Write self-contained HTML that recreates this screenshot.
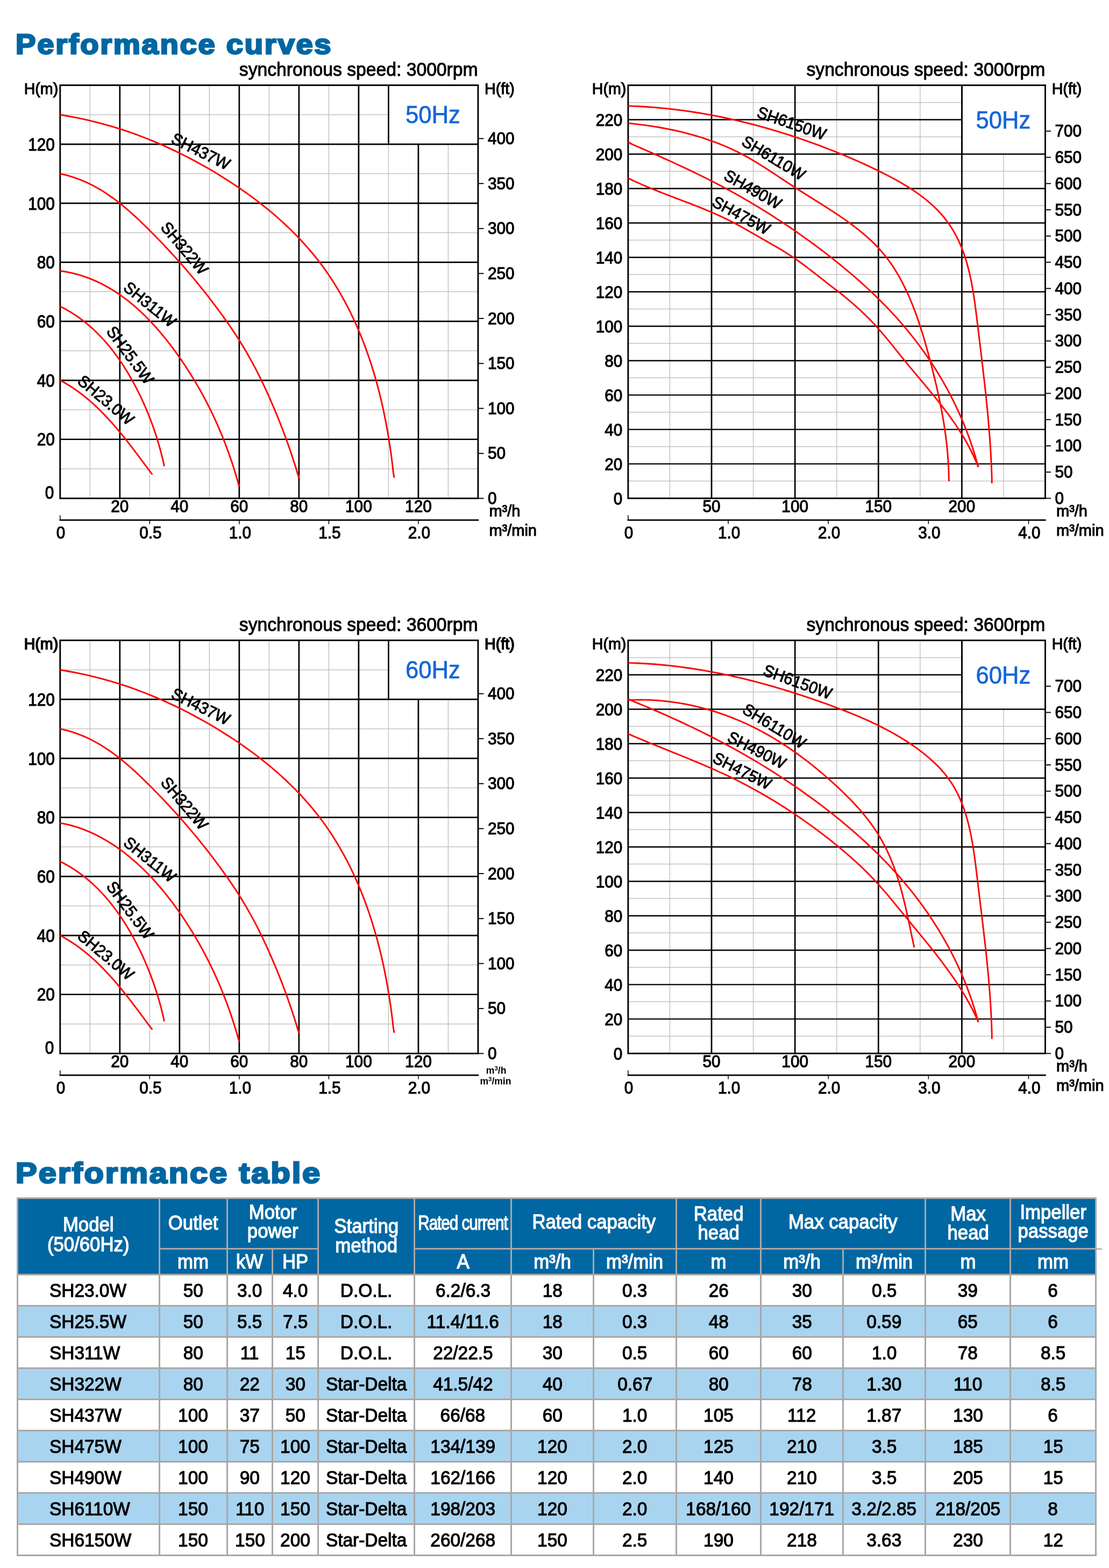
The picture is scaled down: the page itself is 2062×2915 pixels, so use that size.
<!DOCTYPE html>
<html lang="en"><head><meta charset="utf-8"><title>Performance curves</title>
<style>
html,body{margin:0;padding:0;background:#fff;}
body{width:2062px;height:2915px;position:relative;overflow:hidden;font-family:"Liberation Sans", sans-serif;color:#000;}
svg.charts{position:absolute;left:0;top:0;font-family:"Liberation Sans", sans-serif;}
h1.title{position:absolute;margin:0;left:28.6px;font-size:51.2px;line-height:60px;font-weight:bold;color:#0066a2;
  -webkit-text-stroke:2.9px #0066a2;letter-spacing:2.5px;white-space:nowrap;transform-origin:0 0;transform:scaleX(1.097);}
table.perf{position:absolute;left:30.7px;top:2225.5px;border-collapse:collapse;table-layout:fixed;width:2006px;
  font-size:34.7px;-webkit-text-stroke:1.15px #000;}
table.perf td,table.perf th{border:3px solid #a9a7a7;padding:0;text-align:center;vertical-align:middle;font-weight:normal;white-space:nowrap;overflow:visible;}
table.perf th{background:#0067a3;color:#fff;-webkit-text-stroke:1.3px #fff;line-height:35.6px;font-size:36.1px;}
table.perf th div{position:relative;}
table.perf tr.alt td{background:#a9d4ef;}
table.perf tbody tr{height:58.02px;}
table.perf td{line-height:53px;padding-top:2px;}
table.perf td.m{text-align:left;padding-left:58.5px;}
table.perf span.cx{display:inline-block;transform-origin:50% 50%;transform:scaleX(0.963);}
table.perf td.m span.cx{transform-origin:0 50%;}
</style></head><body>
<h1 class="title" style="top:53px">Performance curves</h1>
<h1 class="title" style="top:2151px;font-size:54.3px;letter-spacing:2.65px;-webkit-text-stroke-width:3.05px">Performance table</h1>
<svg class="charts" width="2062" height="2120" viewBox="0 0 2062 2120">
<g>
<line x1="167.31" y1="158.4" x2="167.31" y2="926.5" stroke="#b9b9b9" stroke-width="1.25"/>
<line x1="278.32" y1="158.4" x2="278.32" y2="926.5" stroke="#b9b9b9" stroke-width="1.25"/>
<line x1="389.34" y1="158.4" x2="389.34" y2="926.5" stroke="#b9b9b9" stroke-width="1.25"/>
<line x1="500.35" y1="158.4" x2="500.35" y2="926.5" stroke="#b9b9b9" stroke-width="1.25"/>
<line x1="611.36" y1="158.4" x2="611.36" y2="926.5" stroke="#b9b9b9" stroke-width="1.25"/>
<line x1="722.38" y1="268.13" x2="722.38" y2="926.5" stroke="#b9b9b9" stroke-width="1.25"/>
<line x1="833.39" y1="268.13" x2="833.39" y2="926.5" stroke="#b9b9b9" stroke-width="1.25"/>
<line x1="111.8" y1="871.64" x2="888.9" y2="871.64" stroke="#b9b9b9" stroke-width="1.25"/>
<line x1="111.8" y1="761.91" x2="888.9" y2="761.91" stroke="#b9b9b9" stroke-width="1.25"/>
<line x1="111.8" y1="652.18" x2="888.9" y2="652.18" stroke="#b9b9b9" stroke-width="1.25"/>
<line x1="111.8" y1="542.45" x2="888.9" y2="542.45" stroke="#b9b9b9" stroke-width="1.25"/>
<line x1="111.8" y1="432.72" x2="888.9" y2="432.72" stroke="#b9b9b9" stroke-width="1.25"/>
<line x1="111.8" y1="322.99" x2="888.9" y2="322.99" stroke="#b9b9b9" stroke-width="1.25"/>
<line x1="111.8" y1="213.26" x2="722.38" y2="213.26" stroke="#b9b9b9" stroke-width="1.25"/>
<line x1="111.8" y1="816.77" x2="888.9" y2="816.77" stroke="#000" stroke-width="2.7"/>
<line x1="111.8" y1="707.04" x2="888.9" y2="707.04" stroke="#000" stroke-width="2.7"/>
<line x1="111.8" y1="597.31" x2="888.9" y2="597.31" stroke="#000" stroke-width="2.7"/>
<line x1="111.8" y1="487.59" x2="888.9" y2="487.59" stroke="#000" stroke-width="2.7"/>
<line x1="111.8" y1="377.86" x2="888.9" y2="377.86" stroke="#000" stroke-width="2.7"/>
<line x1="111.8" y1="268.13" x2="888.9" y2="268.13" stroke="#000" stroke-width="2.7"/>
<line x1="222.81" y1="158.4" x2="222.81" y2="926.5" stroke="#000" stroke-width="2.7"/>
<line x1="333.83" y1="158.4" x2="333.83" y2="926.5" stroke="#000" stroke-width="2.7"/>
<line x1="444.84" y1="158.4" x2="444.84" y2="926.5" stroke="#000" stroke-width="2.7"/>
<line x1="555.86" y1="158.4" x2="555.86" y2="926.5" stroke="#000" stroke-width="2.7"/>
<line x1="666.87" y1="158.4" x2="666.87" y2="926.5" stroke="#000" stroke-width="2.7"/>
<line x1="777.89" y1="268.13" x2="777.89" y2="926.5" stroke="#000" stroke-width="2.7"/>
<line x1="722.38" y1="158.4" x2="722.38" y2="268.13" stroke="#000" stroke-width="2.7"/>
<rect x="111.8" y="158.4" width="777.1" height="768.1" fill="none" stroke="#000" stroke-width="2.9"/>
<path d="M111.8 213.26 L120.02 214.76 L128.37 216.2 L136.69 217.73 L144.97 219.36 L153.22 221.08 L161.43 222.89 L169.6 224.79 L177.75 226.79 L185.85 228.87 L193.93 231.04 L201.96 233.3 L209.97 235.65 L217.94 238.09 L225.88 240.61 L233.78 243.22 L241.66 245.91 L249.5 248.69 L257.3 251.54 L265.08 254.49 L272.82 257.51 L280.54 260.61 L288.22 263.79 L295.87 267.06 L303.49 270.4 L311.07 273.82 L318.63 277.31 L326.16 280.88 L333.66 284.53 L341.12 288.25 L348.56 292.05 L355.97 295.91 L363.35 299.85 L370.7 303.87 L378.03 307.95 L385.32 312.1 L392.59 316.32 L399.82 320.61 L407.03 324.97 L414.2 329.4 L421.33 333.9 L428.43 338.47 L435.48 343.11 L442.49 347.82 L449.45 352.6 L456.36 357.46 L463.22 362.38 L470.02 367.38 L476.77 372.45 L483.46 377.59 L490.08 382.81 L496.64 388.1 L503.13 393.46 L509.55 398.9 L515.9 404.41 L522.18 410 L528.37 415.66 L534.49 421.4 L540.52 427.21 L546.47 433.1 L552.33 439.06 L558.1 445.1 L563.77 451.22 L569.35 457.42 L574.84 463.69 L580.22 470.04 L585.5 476.47 L590.67 482.98 L595.74 489.56 L600.69 496.23 L605.54 502.97 L610.27 509.79 L614.91 516.68 L619.43 523.64 L623.85 530.67 L628.17 537.77 L632.38 544.93 L636.5 552.16 L640.51 559.44 L644.42 566.79 L648.24 574.2 L651.96 581.66 L655.58 589.18 L659.11 596.74 L662.55 604.36 L665.89 612.03 L669.14 619.74 L672.3 627.5 L675.37 635.3 L678.35 643.14 L681.25 651.02 L684.06 658.94 L686.79 666.9 L689.43 674.88 L691.99 682.9 L694.46 690.95 L696.86 699.02 L699.18 707.12 L701.42 715.24 L703.58 723.39 L705.66 731.55 L707.67 739.74 L709.61 747.94 L711.48 756.15 L713.27 764.38 L714.99 772.61 L716.64 780.86 L718.23 789.11 L719.74 797.37 L721.19 805.63 L722.58 813.89 L723.9 822.15 L725.16 830.41 L726.36 838.66 L727.49 846.91 L728.57 855.14 L729.59 863.37 L730.55 871.58 L731.45 879.79 L732.92 888.1" fill="none" stroke="#ff0000" stroke-width="2.9" stroke-linecap="butt"/>
<path d="M111.8 322.99 L118.05 324.31 L124.3 325.88 L130.46 327.61 L136.53 329.51 L142.5 331.57 L148.39 333.78 L154.19 336.13 L159.9 338.64 L165.53 341.27 L171.09 344.05 L176.57 346.95 L181.97 349.97 L187.3 353.11 L192.57 356.36 L197.77 359.72 L202.9 363.19 L207.97 366.75 L212.99 370.41 L217.95 374.15 L222.85 377.98 L227.7 381.89 L232.51 385.86 L237.27 389.91 L241.98 394.02 L246.66 398.19 L251.3 402.41 L255.9 406.68 L260.46 410.99 L265 415.34 L269.51 419.72 L273.99 424.13 L278.45 428.57 L282.89 433.02 L287.31 437.49 L291.7 441.98 L296.08 446.49 L300.43 451.02 L304.76 455.57 L309.07 460.13 L313.35 464.72 L317.62 469.32 L321.86 473.94 L326.07 478.58 L330.27 483.24 L334.44 487.92 L338.59 492.62 L342.71 497.34 L346.82 502.07 L350.89 506.82 L354.95 511.59 L358.97 516.38 L362.98 521.19 L366.96 526.02 L370.91 530.87 L374.84 535.73 L378.75 540.61 L382.63 545.52 L386.48 550.44 L390.31 555.38 L394.11 560.33 L397.88 565.31 L401.63 570.31 L405.35 575.32 L409.05 580.35 L412.72 585.4 L416.36 590.47 L419.98 595.56 L423.56 600.67 L427.12 605.79 L430.64 610.94 L434.13 616.11 L437.58 621.31 L440.98 626.53 L444.34 631.79 L447.65 637.07 L450.92 642.38 L454.14 647.73 L457.31 653.1 L460.43 658.49 L463.51 663.92 L466.55 669.37 L469.55 674.85 L472.5 680.35 L475.41 685.88 L478.27 691.43 L481.1 697 L483.88 702.6 L486.63 708.22 L489.34 713.86 L492.01 719.52 L494.65 725.2 L497.25 730.89 L499.82 736.61 L502.36 742.33 L504.87 748.07 L507.35 753.83 L509.81 759.59 L512.23 765.38 L514.62 771.17 L516.98 776.97 L519.32 782.79 L521.62 788.62 L523.89 794.46 L526.13 800.31 L528.34 806.17 L530.52 812.04 L532.67 817.92 L534.79 823.81 L536.87 829.71 L538.93 835.62 L540.95 841.54 L542.94 847.46 L544.9 853.39 L546.82 859.33 L548.72 865.28 L550.58 871.24 L552.41 877.2 L554.21 883.16 L555.86 889.19" fill="none" stroke="#ff0000" stroke-width="2.9" stroke-linecap="butt"/>
<path d="M111.8 504.05 L116.51 504.28 L121.2 505.04 L125.84 505.9 L130.44 506.84 L135 507.87 L139.52 508.99 L144 510.19 L148.44 511.47 L152.84 512.84 L157.21 514.28 L161.53 515.81 L165.82 517.41 L170.06 519.09 L174.27 520.84 L178.44 522.67 L182.57 524.57 L186.67 526.55 L190.72 528.59 L194.74 530.7 L198.73 532.88 L202.67 535.12 L206.58 537.43 L210.46 539.81 L214.3 542.24 L218.1 544.74 L221.87 547.29 L225.6 549.9 L229.29 552.57 L232.96 555.3 L236.58 558.07 L240.18 560.91 L243.74 563.79 L247.26 566.72 L250.75 569.7 L254.21 572.73 L257.64 575.81 L261.03 578.93 L264.39 582.09 L267.72 585.29 L271.02 588.54 L274.28 591.82 L277.51 595.15 L280.71 598.51 L283.88 601.9 L287.02 605.33 L290.13 608.8 L293.21 612.29 L296.25 615.81 L299.27 619.37 L302.26 622.95 L305.22 626.55 L308.15 630.18 L311.05 633.84 L313.92 637.52 L316.76 641.21 L319.57 644.93 L322.36 648.67 L325.12 652.42 L327.85 656.19 L330.55 659.97 L333.23 663.77 L335.88 667.57 L338.5 671.39 L341.09 675.22 L343.66 679.06 L346.21 682.91 L348.72 686.78 L351.21 690.66 L353.67 694.54 L356.11 698.44 L358.52 702.35 L360.9 706.28 L363.26 710.21 L365.59 714.16 L367.9 718.12 L370.18 722.09 L372.44 726.07 L374.66 730.07 L376.87 734.07 L379.04 738.09 L381.2 742.12 L383.32 746.16 L385.42 750.22 L387.5 754.29 L389.55 758.37 L391.57 762.46 L393.57 766.56 L395.55 770.68 L397.5 774.81 L399.42 778.95 L401.33 783.11 L403.2 787.27 L405.05 791.45 L406.88 795.65 L408.68 799.85 L410.46 804.07 L412.21 808.3 L413.94 812.54 L415.64 816.8 L417.32 821.07 L418.98 825.35 L420.61 829.65 L422.22 833.95 L423.8 838.28 L425.37 842.61 L426.9 846.96 L428.41 851.32 L429.9 855.69 L431.37 860.08 L432.81 864.48 L434.23 868.89 L435.63 873.32 L437 877.76 L438.35 882.21 L439.68 886.68 L440.98 891.16 L442.26 895.65 L443.52 900.16 L444.84 904.55" fill="none" stroke="#ff0000" stroke-width="2.9" stroke-linecap="butt"/>
<path d="M111.8 569.88 L114.81 570.99 L117.59 572.43 L120.34 573.9 L123.07 575.4 L125.77 576.94 L128.45 578.5 L131.1 580.1 L133.73 581.72 L136.34 583.37 L138.92 585.05 L141.47 586.76 L144.01 588.5 L146.51 590.27 L149 592.06 L151.46 593.88 L153.9 595.73 L156.31 597.6 L158.71 599.5 L161.08 601.43 L163.42 603.38 L165.75 605.35 L168.05 607.35 L170.33 609.38 L172.59 611.42 L174.82 613.49 L177.04 615.59 L179.23 617.71 L181.4 619.84 L183.55 622.01 L185.68 624.19 L187.79 626.39 L189.87 628.62 L191.94 630.86 L193.99 633.13 L196.01 635.41 L198.02 637.72 L200 640.04 L201.97 642.39 L203.91 644.75 L205.84 647.13 L207.75 649.52 L209.64 651.94 L211.51 654.37 L213.36 656.82 L215.19 659.28 L217 661.76 L218.8 664.25 L220.57 666.76 L222.33 669.29 L224.07 671.83 L225.8 674.38 L227.5 676.95 L229.19 679.53 L230.86 682.12 L232.51 684.73 L234.15 687.34 L235.77 689.97 L237.37 692.61 L238.96 695.27 L240.53 697.93 L242.09 700.6 L243.62 703.29 L245.15 705.98 L246.65 708.68 L248.14 711.39 L249.62 714.11 L251.08 716.84 L252.52 719.58 L253.95 722.33 L255.37 725.08 L256.76 727.84 L258.14 730.61 L259.51 733.39 L260.86 736.18 L262.2 738.97 L263.52 741.77 L264.82 744.57 L266.11 747.39 L267.38 750.21 L268.64 753.03 L269.88 755.87 L271.1 758.7 L272.31 761.55 L273.51 764.4 L274.68 767.25 L275.85 770.11 L276.99 772.98 L278.13 775.85 L279.24 778.73 L280.34 781.61 L281.43 784.49 L282.49 787.38 L283.55 790.27 L284.59 793.17 L285.61 796.07 L286.61 798.97 L287.6 801.88 L288.58 804.79 L289.54 807.71 L290.48 810.62 L291.41 813.54 L292.32 816.46 L293.22 819.39 L294.1 822.31 L294.97 825.24 L295.82 828.17 L296.65 831.1 L297.47 834.03 L298.27 836.97 L299.06 839.9 L299.83 842.84 L300.59 845.77 L301.33 848.71 L302.05 851.64 L302.76 854.58 L303.45 857.52 L304.13 860.45 L304.79 863.39 L304.96 866.7" fill="none" stroke="#ff0000" stroke-width="2.9" stroke-linecap="butt"/>
<path d="M111.8 707.04 L113.66 708.03 L115.51 709.04 L117.35 710.05 L119.18 711.09 L121 712.13 L122.81 713.19 L124.6 714.26 L126.39 715.34 L128.17 716.44 L129.94 717.55 L131.7 718.67 L133.44 719.8 L135.18 720.94 L136.91 722.1 L138.63 723.26 L140.34 724.44 L142.04 725.63 L143.73 726.84 L145.42 728.05 L147.09 729.27 L148.76 730.51 L150.41 731.75 L152.06 733.01 L153.7 734.27 L155.32 735.55 L156.95 736.84 L158.56 738.13 L160.16 739.44 L161.76 740.76 L163.35 742.08 L164.93 743.42 L166.5 744.76 L168.06 746.12 L169.62 747.48 L171.17 748.85 L172.71 750.23 L174.24 751.62 L175.77 753.02 L177.29 754.43 L178.8 755.84 L180.3 757.27 L181.8 758.7 L183.29 760.14 L184.77 761.58 L186.25 763.04 L187.72 764.5 L189.18 765.97 L190.64 767.44 L192.09 768.93 L193.53 770.42 L194.97 771.91 L196.4 773.42 L197.83 774.93 L199.25 776.44 L200.66 777.96 L202.07 779.49 L203.47 781.03 L204.87 782.57 L206.26 784.11 L207.65 785.67 L209.03 787.22 L210.4 788.78 L211.77 790.35 L213.14 791.92 L214.5 793.5 L215.85 795.08 L217.21 796.67 L218.55 798.26 L219.89 799.86 L221.23 801.46 L222.56 803.06 L223.89 804.67 L225.22 806.28 L226.54 807.89 L227.85 809.51 L229.16 811.13 L230.47 812.76 L231.78 814.39 L233.08 816.02 L234.37 817.65 L235.67 819.29 L236.96 820.93 L238.25 822.57 L239.53 824.21 L240.81 825.86 L242.09 827.51 L243.36 829.16 L244.63 830.81 L245.9 832.46 L247.17 834.12 L248.43 835.77 L249.7 837.43 L250.96 839.09 L252.21 840.75 L253.47 842.41 L254.72 844.07 L255.97 845.73 L257.22 847.39 L258.47 849.05 L259.71 850.71 L260.95 852.38 L262.2 854.04 L263.44 855.7 L264.68 857.36 L265.91 859.02 L267.15 860.68 L268.38 862.34 L269.62 864 L270.85 865.65 L272.09 867.31 L273.32 868.96 L274.55 870.62 L275.78 872.27 L277.01 873.92 L278.24 875.56 L279.47 877.21 L280.7 878.85 L281.93 880.49 L283.32 882.06" fill="none" stroke="#ff0000" stroke-width="2.9" stroke-linecap="butt"/>
<text transform="translate(316.2 264.8) rotate(26.3) scale(0.96 1)" font-size="30.5" fill="#000" stroke="#000" stroke-width="1.0">SH437W</text>
<text transform="translate(297.2 423.6) rotate(49.8) scale(0.96 1)" font-size="30.5" fill="#000" stroke="#000" stroke-width="1.0">SH322W</text>
<text transform="translate(227.5 537.9) rotate(39) scale(0.96 1)" font-size="30.5" fill="#000" stroke="#000" stroke-width="1.0">SH311W</text>
<text transform="translate(196.4 616.2) rotate(53.4) scale(0.96 1)" font-size="30.5" fill="#000" stroke="#000" stroke-width="1.0">SH25.5W</text>
<text transform="translate(142.3 711.5) rotate(40) scale(0.96 1)" font-size="30.5" fill="#000" stroke="#000" stroke-width="1.0">SH23.0W</text>
<text transform="translate(101.8 828.47) scale(0.905 1)" font-size="32.9" text-anchor="end" fill="#000" stroke="#000" stroke-width="1.15">20</text>
<text transform="translate(101.8 718.74) scale(0.905 1)" font-size="32.9" text-anchor="end" fill="#000" stroke="#000" stroke-width="1.15">40</text>
<text transform="translate(101.8 609.01) scale(0.905 1)" font-size="32.9" text-anchor="end" fill="#000" stroke="#000" stroke-width="1.15">60</text>
<text transform="translate(101.8 499.29) scale(0.905 1)" font-size="32.9" text-anchor="end" fill="#000" stroke="#000" stroke-width="1.15">80</text>
<text transform="translate(101.8 389.56) scale(0.905 1)" font-size="32.9" text-anchor="end" fill="#000" stroke="#000" stroke-width="1.15">100</text>
<text transform="translate(101.8 279.83) scale(0.905 1)" font-size="32.9" text-anchor="end" fill="#000" stroke="#000" stroke-width="1.15">120</text>
<text transform="translate(100.3 927.1) scale(0.905 1)" font-size="32.9" text-anchor="end" fill="#000" stroke="#000" stroke-width="1.15">0</text>
<text transform="translate(108.2 175) scale(0.96 1)" font-size="29.8" text-anchor="end" fill="#000" stroke="#000" stroke-width="1.15">H(m)</text>
<line x1="888.9" y1="926.5" x2="899.4" y2="926.5" stroke="#000" stroke-width="1.9"/>
<text transform="translate(906.9 937.1) scale(0.95 1)" font-size="31.3" text-anchor="start" fill="#000" stroke="#000" stroke-width="1.15">0</text>
<line x1="888.9" y1="842.89" x2="899.4" y2="842.89" stroke="#000" stroke-width="1.9"/>
<text transform="translate(906.9 853.49) scale(0.95 1)" font-size="31.3" text-anchor="start" fill="#000" stroke="#000" stroke-width="1.15">50</text>
<line x1="888.9" y1="759.27" x2="899.4" y2="759.27" stroke="#000" stroke-width="1.9"/>
<text transform="translate(906.9 769.87) scale(0.95 1)" font-size="31.3" text-anchor="start" fill="#000" stroke="#000" stroke-width="1.15">100</text>
<line x1="888.9" y1="675.66" x2="899.4" y2="675.66" stroke="#000" stroke-width="1.9"/>
<text transform="translate(906.9 686.26) scale(0.95 1)" font-size="31.3" text-anchor="start" fill="#000" stroke="#000" stroke-width="1.15">150</text>
<line x1="888.9" y1="592.05" x2="899.4" y2="592.05" stroke="#000" stroke-width="1.9"/>
<text transform="translate(906.9 602.65) scale(0.95 1)" font-size="31.3" text-anchor="start" fill="#000" stroke="#000" stroke-width="1.15">200</text>
<line x1="888.9" y1="508.43" x2="899.4" y2="508.43" stroke="#000" stroke-width="1.9"/>
<text transform="translate(906.9 519.03) scale(0.95 1)" font-size="31.3" text-anchor="start" fill="#000" stroke="#000" stroke-width="1.15">250</text>
<line x1="888.9" y1="424.82" x2="899.4" y2="424.82" stroke="#000" stroke-width="1.9"/>
<text transform="translate(906.9 435.42) scale(0.95 1)" font-size="31.3" text-anchor="start" fill="#000" stroke="#000" stroke-width="1.15">300</text>
<line x1="888.9" y1="341.21" x2="899.4" y2="341.21" stroke="#000" stroke-width="1.9"/>
<text transform="translate(906.9 351.81) scale(0.95 1)" font-size="31.3" text-anchor="start" fill="#000" stroke="#000" stroke-width="1.15">350</text>
<line x1="888.9" y1="257.59" x2="899.4" y2="257.59" stroke="#000" stroke-width="1.9"/>
<text transform="translate(906.9 268.19) scale(0.95 1)" font-size="31.3" text-anchor="start" fill="#000" stroke="#000" stroke-width="1.15">400</text>
<text transform="translate(901.1 175) scale(0.96 1)" font-size="29.8" text-anchor="start" fill="#000" stroke="#000" stroke-width="1.15">H(ft)</text>
<text transform="translate(754 229.3) scale(0.96 1)" font-size="45.4" text-anchor="start" fill="#1565d8" stroke="#1565d8" stroke-width="0.7">50Hz</text>
<text transform="translate(888.6 140.6) scale(0.96 1)" font-size="35.1" text-anchor="end" fill="#000" stroke="#000" stroke-width="1.0">synchronous speed: 3000rpm</text>
<text transform="translate(222.81 951.7) scale(0.95 1)" font-size="31.3" text-anchor="middle" fill="#000" stroke="#000" stroke-width="1.15">20</text>
<text transform="translate(333.83 951.7) scale(0.95 1)" font-size="31.3" text-anchor="middle" fill="#000" stroke="#000" stroke-width="1.15">40</text>
<text transform="translate(444.84 951.7) scale(0.95 1)" font-size="31.3" text-anchor="middle" fill="#000" stroke="#000" stroke-width="1.15">60</text>
<text transform="translate(555.86 951.7) scale(0.95 1)" font-size="31.3" text-anchor="middle" fill="#000" stroke="#000" stroke-width="1.15">80</text>
<text transform="translate(666.87 951.7) scale(0.95 1)" font-size="31.3" text-anchor="middle" fill="#000" stroke="#000" stroke-width="1.15">100</text>
<text transform="translate(777.89 951.7) scale(0.95 1)" font-size="31.3" text-anchor="middle" fill="#000" stroke="#000" stroke-width="1.15">120</text>
<line x1="110.5" y1="966.9" x2="890.2" y2="966.9" stroke="#000" stroke-width="2.8"/>
<line x1="111.8" y1="957.9" x2="111.8" y2="966.9" stroke="#000" stroke-width="1.5"/>
<text transform="translate(113 1001.3) scale(0.95 1)" font-size="31.3" text-anchor="middle" fill="#000" stroke="#000" stroke-width="1.15">0</text>
<line x1="278.32" y1="966.9" x2="278.32" y2="974.4" stroke="#000" stroke-width="1.5"/>
<text transform="translate(279.82 1001.3) scale(0.95 1)" font-size="31.3" text-anchor="middle" fill="#000" stroke="#000" stroke-width="1.15">0.5</text>
<line x1="444.84" y1="966.9" x2="444.84" y2="974.4" stroke="#000" stroke-width="1.5"/>
<text transform="translate(446.34 1001.3) scale(0.95 1)" font-size="31.3" text-anchor="middle" fill="#000" stroke="#000" stroke-width="1.15">1.0</text>
<line x1="611.36" y1="966.9" x2="611.36" y2="974.4" stroke="#000" stroke-width="1.5"/>
<text transform="translate(612.86 1001.3) scale(0.95 1)" font-size="31.3" text-anchor="middle" fill="#000" stroke="#000" stroke-width="1.15">1.5</text>
<line x1="777.89" y1="966.9" x2="777.89" y2="974.4" stroke="#000" stroke-width="1.5"/>
<text transform="translate(779.39 1001.3) scale(0.95 1)" font-size="31.3" text-anchor="middle" fill="#000" stroke="#000" stroke-width="1.15">2.0</text>
<text transform="translate(909.4 959.8) scale(0.96 1)" font-size="30.2" text-anchor="start" fill="#000" stroke="#000" stroke-width="1.15">m³/h</text>
<text transform="translate(909.4 996.1) scale(0.96 1)" font-size="30.2" text-anchor="start" fill="#000" stroke="#000" stroke-width="1.15">m³/min</text>
</g>
<g>
<line x1="1245.46" y1="158.5" x2="1245.46" y2="926.4" stroke="#b9b9b9" stroke-width="1.25"/>
<line x1="1400.58" y1="158.5" x2="1400.58" y2="926.4" stroke="#b9b9b9" stroke-width="1.25"/>
<line x1="1555.7" y1="158.5" x2="1555.7" y2="926.4" stroke="#b9b9b9" stroke-width="1.25"/>
<line x1="1710.82" y1="158.5" x2="1710.82" y2="926.4" stroke="#b9b9b9" stroke-width="1.25"/>
<line x1="1865.94" y1="286.48" x2="1865.94" y2="926.4" stroke="#b9b9b9" stroke-width="1.25"/>
<line x1="1167.9" y1="894.4" x2="1943.5" y2="894.4" stroke="#b9b9b9" stroke-width="1.25"/>
<line x1="1167.9" y1="830.41" x2="1943.5" y2="830.41" stroke="#b9b9b9" stroke-width="1.25"/>
<line x1="1167.9" y1="766.42" x2="1943.5" y2="766.42" stroke="#b9b9b9" stroke-width="1.25"/>
<line x1="1167.9" y1="702.43" x2="1943.5" y2="702.43" stroke="#b9b9b9" stroke-width="1.25"/>
<line x1="1167.9" y1="638.44" x2="1943.5" y2="638.44" stroke="#b9b9b9" stroke-width="1.25"/>
<line x1="1167.9" y1="574.45" x2="1943.5" y2="574.45" stroke="#b9b9b9" stroke-width="1.25"/>
<line x1="1167.9" y1="510.45" x2="1943.5" y2="510.45" stroke="#b9b9b9" stroke-width="1.25"/>
<line x1="1167.9" y1="446.46" x2="1943.5" y2="446.46" stroke="#b9b9b9" stroke-width="1.25"/>
<line x1="1167.9" y1="382.47" x2="1943.5" y2="382.47" stroke="#b9b9b9" stroke-width="1.25"/>
<line x1="1167.9" y1="318.48" x2="1943.5" y2="318.48" stroke="#b9b9b9" stroke-width="1.25"/>
<line x1="1167.9" y1="254.49" x2="1788.38" y2="254.49" stroke="#b9b9b9" stroke-width="1.25"/>
<line x1="1167.9" y1="190.5" x2="1788.38" y2="190.5" stroke="#b9b9b9" stroke-width="1.25"/>
<line x1="1167.9" y1="862.41" x2="1943.5" y2="862.41" stroke="#000" stroke-width="2.4"/>
<line x1="1167.9" y1="798.42" x2="1943.5" y2="798.42" stroke="#000" stroke-width="2.4"/>
<line x1="1167.9" y1="734.42" x2="1943.5" y2="734.42" stroke="#000" stroke-width="2.4"/>
<line x1="1167.9" y1="670.43" x2="1943.5" y2="670.43" stroke="#000" stroke-width="2.4"/>
<line x1="1167.9" y1="606.44" x2="1943.5" y2="606.44" stroke="#000" stroke-width="2.4"/>
<line x1="1167.9" y1="542.45" x2="1943.5" y2="542.45" stroke="#000" stroke-width="2.4"/>
<line x1="1167.9" y1="478.46" x2="1943.5" y2="478.46" stroke="#000" stroke-width="2.4"/>
<line x1="1167.9" y1="414.47" x2="1943.5" y2="414.47" stroke="#000" stroke-width="2.4"/>
<line x1="1167.9" y1="350.47" x2="1943.5" y2="350.47" stroke="#000" stroke-width="2.4"/>
<line x1="1167.9" y1="286.48" x2="1943.5" y2="286.48" stroke="#000" stroke-width="2.4"/>
<line x1="1167.9" y1="222.49" x2="1788.38" y2="222.49" stroke="#000" stroke-width="2.4"/>
<line x1="1323.02" y1="158.5" x2="1323.02" y2="926.4" stroke="#000" stroke-width="2.7"/>
<line x1="1478.14" y1="158.5" x2="1478.14" y2="926.4" stroke="#000" stroke-width="2.7"/>
<line x1="1633.26" y1="158.5" x2="1633.26" y2="926.4" stroke="#000" stroke-width="2.7"/>
<line x1="1788.38" y1="158.5" x2="1788.38" y2="926.4" stroke="#000" stroke-width="2.7"/>
<line x1="1788.38" y1="158.5" x2="1788.38" y2="286.48" stroke="#000" stroke-width="2.7"/>
<rect x="1167.9" y="158.5" width="775.6" height="767.9" fill="none" stroke="#000" stroke-width="2.9"/>
<path d="M1167.9 196.89 L1177.52 197.34 L1187.16 197.78 L1196.78 198.31 L1206.39 198.93 L1215.98 199.65 L1225.55 200.47 L1235.12 201.38 L1244.66 202.38 L1254.2 203.47 L1263.72 204.65 L1273.22 205.92 L1282.72 207.28 L1292.19 208.73 L1301.66 210.27 L1311.11 211.89 L1320.55 213.59 L1329.97 215.39 L1339.38 217.26 L1348.78 219.22 L1358.16 221.26 L1367.53 223.38 L1376.89 225.58 L1386.23 227.86 L1395.56 230.22 L1404.87 232.65 L1414.16 235.16 L1423.43 237.74 L1432.68 240.39 L1441.91 243.12 L1451.12 245.92 L1460.3 248.79 L1469.46 251.72 L1478.59 254.72 L1487.7 257.79 L1496.78 260.92 L1505.82 264.12 L1514.84 267.38 L1523.82 270.7 L1532.77 274.08 L1541.69 277.52 L1550.57 281.01 L1559.42 284.57 L1568.24 288.2 L1577.04 291.89 L1585.8 295.65 L1594.55 299.49 L1603.27 303.4 L1611.98 307.39 L1620.67 311.47 L1629.35 315.63 L1638.01 319.88 L1646.66 324.23 L1655.27 328.7 L1663.83 333.3 L1672.33 338.05 L1680.76 342.97 L1689.09 348.07 L1697.31 353.38 L1705.39 358.89 L1713.3 364.63 L1721.02 370.6 L1728.49 376.82 L1735.69 383.29 L1742.58 390.03 L1749.15 397.02 L1755.36 404.27 L1761.19 411.75 L1766.63 419.46 L1771.67 427.38 L1776.32 435.51 L1780.62 443.83 L1784.57 452.32 L1788.21 460.99 L1791.54 469.81 L1794.59 478.77 L1797.38 487.86 L1799.92 497.06 L1802.24 506.38 L1804.36 515.78 L1806.3 525.27 L1808.07 534.82 L1809.7 544.43 L1811.2 554.09 L1812.6 563.78 L1813.91 573.48 L1815.16 583.2 L1816.36 592.91 L1817.53 602.6 L1818.7 612.26 L1819.87 621.89 L1821.04 631.49 L1822.2 641.06 L1823.36 650.61 L1824.51 660.13 L1825.65 669.64 L1826.78 679.12 L1827.89 688.59 L1828.99 698.06 L1830.07 707.51 L1831.13 716.95 L1832.17 726.4 L1833.18 735.84 L1834.16 745.28 L1835.12 754.73 L1836.04 764.19 L1836.93 773.65 L1837.78 783.13 L1838.6 792.63 L1839.38 802.14 L1840.11 811.68 L1840.8 821.24 L1841.44 830.82 L1842.03 840.44 L1842.57 850.08 L1843.06 859.77 L1843.5 869.49 L1843.87 879.25 L1844.19 889.05 L1844.22 898.56" fill="none" stroke="#ff0000" stroke-width="2.9" stroke-linecap="butt"/>
<path d="M1167.9 228.89 L1176.05 229.92 L1184.28 230.83 L1192.51 231.82 L1200.76 232.91 L1209 234.09 L1217.25 235.37 L1225.49 236.74 L1233.72 238.22 L1241.94 239.8 L1250.15 241.49 L1258.33 243.29 L1266.48 245.19 L1274.61 247.21 L1282.7 249.34 L1290.75 251.59 L1298.77 253.95 L1306.73 256.44 L1314.65 259.05 L1322.51 261.78 L1330.32 264.65 L1338.06 267.64 L1345.73 270.76 L1353.34 274.02 L1360.87 277.42 L1368.32 280.95 L1375.69 284.62 L1382.97 288.44 L1390.17 292.39 L1397.3 296.46 L1404.37 300.65 L1411.39 304.93 L1418.36 309.29 L1425.3 313.73 L1432.21 318.22 L1439.12 322.77 L1446.02 327.34 L1452.92 331.94 L1459.84 336.55 L1466.79 341.15 L1473.78 345.73 L1480.81 350.29 L1487.88 354.81 L1494.99 359.31 L1502.13 363.8 L1509.29 368.27 L1516.45 372.75 L1523.62 377.24 L1530.76 381.75 L1537.89 386.28 L1544.98 390.85 L1552.04 395.46 L1559.03 400.13 L1565.97 404.85 L1572.84 409.65 L1579.62 414.52 L1586.31 419.49 L1592.9 424.54 L1599.38 429.71 L1605.74 434.98 L1611.96 440.37 L1618.04 445.9 L1623.98 451.56 L1629.75 457.37 L1635.35 463.34 L1640.77 469.46 L1646 475.76 L1651.03 482.25 L1655.86 488.9 L1660.49 495.73 L1664.94 502.7 L1669.21 509.8 L1673.31 517.03 L1677.25 524.37 L1681.03 531.8 L1684.67 539.31 L1688.16 546.89 L1691.52 554.53 L1694.76 562.22 L1697.87 569.97 L1700.87 577.76 L1703.76 585.6 L1706.55 593.48 L1709.24 601.39 L1711.85 609.34 L1714.37 617.31 L1716.82 625.31 L1719.19 633.33 L1721.51 641.37 L1723.77 649.42 L1725.97 657.48 L1728.13 665.55 L1730.26 673.62 L1732.35 681.68 L1734.4 689.75 L1736.41 697.82 L1738.38 705.89 L1740.3 713.97 L1742.16 722.05 L1743.98 730.14 L1745.74 738.23 L1747.44 746.34 L1749.08 754.45 L1750.65 762.57 L1752.15 770.71 L1753.58 778.86 L1754.93 787.02 L1756.21 795.19 L1757.4 803.39 L1758.51 811.6 L1759.53 819.82 L1760.46 828.07 L1761.3 836.34 L1762.04 844.63 L1762.68 852.94 L1763.22 861.28 L1763.65 869.64 L1763.97 878.02 L1764.17 886.44 L1764.49 894.72" fill="none" stroke="#ff0000" stroke-width="2.9" stroke-linecap="butt"/>
<path d="M1167.9 264.09 L1174.64 267.87 L1181.74 270.96 L1188.84 274.07 L1195.94 277.18 L1203.03 280.29 L1210.12 283.42 L1217.2 286.56 L1224.27 289.71 L1231.33 292.88 L1238.39 296.07 L1245.44 299.27 L1252.48 302.49 L1259.5 305.73 L1266.52 308.99 L1273.52 312.28 L1280.51 315.59 L1287.49 318.92 L1294.45 322.29 L1301.39 325.68 L1308.32 329.1 L1315.23 332.56 L1322.12 336.05 L1329 339.57 L1335.85 343.13 L1342.68 346.73 L1349.49 350.36 L1356.28 354.04 L1363.05 357.76 L1369.79 361.51 L1376.51 365.31 L1383.21 369.15 L1389.89 373.02 L1396.54 376.94 L1403.18 380.89 L1409.79 384.88 L1416.38 388.92 L1422.94 392.98 L1429.49 397.09 L1436.01 401.23 L1442.51 405.41 L1448.99 409.62 L1455.45 413.87 L1461.89 418.16 L1468.3 422.48 L1474.7 426.84 L1481.07 431.24 L1487.41 435.67 L1493.74 440.13 L1500.04 444.63 L1506.31 449.17 L1512.56 453.75 L1518.78 458.36 L1524.98 463 L1531.15 467.69 L1537.3 472.41 L1543.42 477.16 L1549.51 481.96 L1555.57 486.79 L1561.6 491.65 L1567.6 496.56 L1573.57 501.51 L1579.5 506.49 L1585.39 511.52 L1591.25 516.59 L1597.07 521.7 L1602.85 526.85 L1608.58 532.05 L1614.27 537.29 L1619.92 542.58 L1625.52 547.91 L1631.07 553.29 L1636.58 558.72 L1642.03 564.2 L1647.43 569.73 L1652.77 575.3 L1658.06 580.93 L1663.3 586.6 L1668.47 592.33 L1673.59 598.12 L1678.64 603.95 L1683.63 609.84 L1688.56 615.79 L1693.42 621.79 L1698.22 627.84 L1702.95 633.94 L1707.62 640.1 L1712.21 646.31 L1716.74 652.56 L1721.2 658.87 L1725.59 665.23 L1729.91 671.64 L1734.15 678.09 L1738.33 684.59 L1742.43 691.14 L1746.46 697.74 L1750.41 704.38 L1754.29 711.07 L1758.09 717.8 L1761.81 724.58 L1765.46 731.39 L1769.02 738.26 L1772.51 745.16 L1775.92 752.1 L1779.25 759.09 L1782.49 766.12 L1785.66 773.18 L1788.74 780.29 L1791.73 787.43 L1794.64 794.61 L1797.47 801.83 L1800.21 809.08 L1802.86 816.38 L1805.42 823.7 L1807.9 831.06 L1810.28 838.46 L1812.58 845.89 L1814.79 853.35 L1816.9 860.84 L1819.09 868.17" fill="none" stroke="#ff0000" stroke-width="2.9" stroke-linecap="butt"/>
<path d="M1167.9 331.28 L1174.49 334.39 L1181.08 337.5 L1187.71 340.52 L1194.37 343.47 L1201.06 346.36 L1207.78 349.18 L1214.52 351.96 L1221.27 354.68 L1228.05 357.36 L1234.84 360.02 L1241.64 362.64 L1248.44 365.25 L1255.25 367.84 L1262.07 370.43 L1268.88 373.02 L1275.69 375.61 L1282.49 378.22 L1289.28 380.85 L1296.06 383.51 L1302.82 386.21 L1309.56 388.94 L1316.28 391.73 L1322.98 394.56 L1329.64 397.46 L1336.28 400.43 L1342.88 403.48 L1349.45 406.6 L1355.97 409.82 L1362.45 413.13 L1368.89 416.54 L1375.28 420.04 L1381.65 423.61 L1387.99 427.23 L1394.33 430.86 L1400.67 434.5 L1407.02 438.11 L1413.37 441.71 L1419.72 445.31 L1426.07 448.91 L1432.4 452.53 L1438.71 456.17 L1445 459.85 L1451.25 463.58 L1457.45 467.36 L1463.62 471.21 L1469.72 475.14 L1475.77 479.16 L1481.75 483.27 L1487.67 487.48 L1493.53 491.76 L1499.35 496.12 L1505.13 500.53 L1510.88 504.98 L1516.62 509.46 L1522.34 513.96 L1528.06 518.46 L1533.79 522.96 L1539.54 527.43 L1545.31 531.87 L1551.1 536.29 L1556.87 540.73 L1562.61 545.21 L1568.3 549.75 L1573.93 554.36 L1579.51 559.02 L1585.04 563.76 L1590.5 568.56 L1595.91 573.43 L1601.24 578.37 L1606.51 583.37 L1611.71 588.45 L1616.84 593.6 L1621.89 598.82 L1626.87 604.11 L1631.77 609.48 L1636.59 614.92 L1641.34 620.42 L1646.04 625.97 L1650.69 631.57 L1655.3 637.2 L1659.89 642.87 L1664.46 648.54 L1669.02 654.23 L1673.59 659.92 L1678.17 665.61 L1682.77 671.27 L1687.39 676.92 L1692.04 682.55 L1696.71 688.16 L1701.39 693.77 L1706.07 699.36 L1710.76 704.96 L1715.45 710.55 L1720.12 716.15 L1724.78 721.76 L1729.43 727.38 L1734.04 733.01 L1738.63 738.67 L1743.19 744.34 L1747.7 750.04 L1752.17 755.78 L1756.59 761.54 L1760.96 767.34 L1765.26 773.19 L1769.5 779.08 L1773.66 785.02 L1777.75 791 L1781.76 797.05 L1785.68 803.15 L1789.51 809.32 L1793.25 815.56 L1796.88 821.86 L1800.4 828.24 L1803.81 834.7 L1807.1 841.24 L1810.27 847.86 L1813.31 854.57 L1816.21 861.38 L1819.09 868.17" fill="none" stroke="#ff0000" stroke-width="2.9" stroke-linecap="butt"/>
<text transform="translate(1405.5 217.3) rotate(19) scale(0.96 1)" font-size="30.5" fill="#000" stroke="#000" stroke-width="1.0">SH6150W</text>
<text transform="translate(1377.1 268.8) rotate(31) scale(0.96 1)" font-size="30.5" fill="#000" stroke="#000" stroke-width="1.0">SH6110W</text>
<text transform="translate(1343.7 332.4) rotate(29.6) scale(0.96 1)" font-size="30.5" fill="#000" stroke="#000" stroke-width="1.0">SH490W</text>
<text transform="translate(1321.7 381.9) rotate(28.2) scale(0.96 1)" font-size="30.5" fill="#000" stroke="#000" stroke-width="1.0">SH475W</text>
<text transform="translate(1157.4 873.51) scale(0.95 1)" font-size="31.3" text-anchor="end" fill="#000" stroke="#000" stroke-width="1.15">20</text>
<text transform="translate(1157.4 809.52) scale(0.95 1)" font-size="31.3" text-anchor="end" fill="#000" stroke="#000" stroke-width="1.15">40</text>
<text transform="translate(1157.4 745.52) scale(0.95 1)" font-size="31.3" text-anchor="end" fill="#000" stroke="#000" stroke-width="1.15">60</text>
<text transform="translate(1157.4 681.53) scale(0.95 1)" font-size="31.3" text-anchor="end" fill="#000" stroke="#000" stroke-width="1.15">80</text>
<text transform="translate(1157.4 617.54) scale(0.95 1)" font-size="31.3" text-anchor="end" fill="#000" stroke="#000" stroke-width="1.15">100</text>
<text transform="translate(1157.4 553.55) scale(0.95 1)" font-size="31.3" text-anchor="end" fill="#000" stroke="#000" stroke-width="1.15">120</text>
<text transform="translate(1157.4 489.56) scale(0.95 1)" font-size="31.3" text-anchor="end" fill="#000" stroke="#000" stroke-width="1.15">140</text>
<text transform="translate(1157.4 425.57) scale(0.95 1)" font-size="31.3" text-anchor="end" fill="#000" stroke="#000" stroke-width="1.15">160</text>
<text transform="translate(1157.4 361.57) scale(0.95 1)" font-size="31.3" text-anchor="end" fill="#000" stroke="#000" stroke-width="1.15">180</text>
<text transform="translate(1157.4 297.58) scale(0.95 1)" font-size="31.3" text-anchor="end" fill="#000" stroke="#000" stroke-width="1.15">200</text>
<text transform="translate(1157.4 233.59) scale(0.95 1)" font-size="31.3" text-anchor="end" fill="#000" stroke="#000" stroke-width="1.15">220</text>
<text transform="translate(1157.4 937.5) scale(0.95 1)" font-size="31.3" text-anchor="end" fill="#000" stroke="#000" stroke-width="1.15">0</text>
<text transform="translate(1164.3 175.1) scale(0.96 1)" font-size="29.8" text-anchor="end" fill="#000" stroke="#000" stroke-width="1.15">H(m)</text>
<line x1="1943.5" y1="926.4" x2="1954" y2="926.4" stroke="#000" stroke-width="1.9"/>
<text transform="translate(1961.5 937) scale(0.95 1)" font-size="31.3" text-anchor="start" fill="#000" stroke="#000" stroke-width="1.15">0</text>
<line x1="1943.5" y1="877.64" x2="1954" y2="877.64" stroke="#000" stroke-width="1.9"/>
<text transform="translate(1961.5 888.24) scale(0.95 1)" font-size="31.3" text-anchor="start" fill="#000" stroke="#000" stroke-width="1.15">50</text>
<line x1="1943.5" y1="828.88" x2="1954" y2="828.88" stroke="#000" stroke-width="1.9"/>
<text transform="translate(1961.5 839.48) scale(0.95 1)" font-size="31.3" text-anchor="start" fill="#000" stroke="#000" stroke-width="1.15">100</text>
<line x1="1943.5" y1="780.12" x2="1954" y2="780.12" stroke="#000" stroke-width="1.9"/>
<text transform="translate(1961.5 790.72) scale(0.95 1)" font-size="31.3" text-anchor="start" fill="#000" stroke="#000" stroke-width="1.15">150</text>
<line x1="1943.5" y1="731.35" x2="1954" y2="731.35" stroke="#000" stroke-width="1.9"/>
<text transform="translate(1961.5 741.95) scale(0.95 1)" font-size="31.3" text-anchor="start" fill="#000" stroke="#000" stroke-width="1.15">200</text>
<line x1="1943.5" y1="682.59" x2="1954" y2="682.59" stroke="#000" stroke-width="1.9"/>
<text transform="translate(1961.5 693.19) scale(0.95 1)" font-size="31.3" text-anchor="start" fill="#000" stroke="#000" stroke-width="1.15">250</text>
<line x1="1943.5" y1="633.83" x2="1954" y2="633.83" stroke="#000" stroke-width="1.9"/>
<text transform="translate(1961.5 644.43) scale(0.95 1)" font-size="31.3" text-anchor="start" fill="#000" stroke="#000" stroke-width="1.15">300</text>
<line x1="1943.5" y1="585.07" x2="1954" y2="585.07" stroke="#000" stroke-width="1.9"/>
<text transform="translate(1961.5 595.67) scale(0.95 1)" font-size="31.3" text-anchor="start" fill="#000" stroke="#000" stroke-width="1.15">350</text>
<line x1="1943.5" y1="536.31" x2="1954" y2="536.31" stroke="#000" stroke-width="1.9"/>
<text transform="translate(1961.5 546.91) scale(0.95 1)" font-size="31.3" text-anchor="start" fill="#000" stroke="#000" stroke-width="1.15">400</text>
<line x1="1943.5" y1="487.55" x2="1954" y2="487.55" stroke="#000" stroke-width="1.9"/>
<text transform="translate(1961.5 498.15) scale(0.95 1)" font-size="31.3" text-anchor="start" fill="#000" stroke="#000" stroke-width="1.15">450</text>
<line x1="1943.5" y1="438.78" x2="1954" y2="438.78" stroke="#000" stroke-width="1.9"/>
<text transform="translate(1961.5 449.38) scale(0.95 1)" font-size="31.3" text-anchor="start" fill="#000" stroke="#000" stroke-width="1.15">500</text>
<line x1="1943.5" y1="390.02" x2="1954" y2="390.02" stroke="#000" stroke-width="1.9"/>
<text transform="translate(1961.5 400.62) scale(0.95 1)" font-size="31.3" text-anchor="start" fill="#000" stroke="#000" stroke-width="1.15">550</text>
<line x1="1943.5" y1="341.26" x2="1954" y2="341.26" stroke="#000" stroke-width="1.9"/>
<text transform="translate(1961.5 351.86) scale(0.95 1)" font-size="31.3" text-anchor="start" fill="#000" stroke="#000" stroke-width="1.15">600</text>
<line x1="1943.5" y1="292.5" x2="1954" y2="292.5" stroke="#000" stroke-width="1.9"/>
<text transform="translate(1961.5 303.1) scale(0.95 1)" font-size="31.3" text-anchor="start" fill="#000" stroke="#000" stroke-width="1.15">650</text>
<line x1="1943.5" y1="243.74" x2="1954" y2="243.74" stroke="#000" stroke-width="1.9"/>
<text transform="translate(1961.5 254.34) scale(0.95 1)" font-size="31.3" text-anchor="start" fill="#000" stroke="#000" stroke-width="1.15">700</text>
<text transform="translate(1955.7 175.1) scale(0.96 1)" font-size="29.8" text-anchor="start" fill="#000" stroke="#000" stroke-width="1.15">H(ft)</text>
<text transform="translate(1814.6 239.2) scale(0.96 1)" font-size="45.4" text-anchor="start" fill="#1565d8" stroke="#1565d8" stroke-width="0.7">50Hz</text>
<text transform="translate(1943.2 140.7) scale(0.96 1)" font-size="35.1" text-anchor="end" fill="#000" stroke="#000" stroke-width="1.0">synchronous speed: 3000rpm</text>
<text transform="translate(1323.02 951.6) scale(0.95 1)" font-size="31.3" text-anchor="middle" fill="#000" stroke="#000" stroke-width="1.15">50</text>
<text transform="translate(1478.14 951.6) scale(0.95 1)" font-size="31.3" text-anchor="middle" fill="#000" stroke="#000" stroke-width="1.15">100</text>
<text transform="translate(1633.26 951.6) scale(0.95 1)" font-size="31.3" text-anchor="middle" fill="#000" stroke="#000" stroke-width="1.15">150</text>
<text transform="translate(1788.38 951.6) scale(0.95 1)" font-size="31.3" text-anchor="middle" fill="#000" stroke="#000" stroke-width="1.15">200</text>
<line x1="1166.6" y1="966.8" x2="1944.8" y2="966.8" stroke="#000" stroke-width="2.8"/>
<line x1="1167.9" y1="957.8" x2="1167.9" y2="966.8" stroke="#000" stroke-width="1.5"/>
<text transform="translate(1169.1 1001.2) scale(0.95 1)" font-size="31.3" text-anchor="middle" fill="#000" stroke="#000" stroke-width="1.15">0</text>
<line x1="1354.04" y1="966.8" x2="1354.04" y2="974.3" stroke="#000" stroke-width="1.5"/>
<text transform="translate(1355.54 1001.2) scale(0.95 1)" font-size="31.3" text-anchor="middle" fill="#000" stroke="#000" stroke-width="1.15">1.0</text>
<line x1="1540.19" y1="966.8" x2="1540.19" y2="974.3" stroke="#000" stroke-width="1.5"/>
<text transform="translate(1541.69 1001.2) scale(0.95 1)" font-size="31.3" text-anchor="middle" fill="#000" stroke="#000" stroke-width="1.15">2.0</text>
<line x1="1726.33" y1="966.8" x2="1726.33" y2="974.3" stroke="#000" stroke-width="1.5"/>
<text transform="translate(1727.83 1001.2) scale(0.95 1)" font-size="31.3" text-anchor="middle" fill="#000" stroke="#000" stroke-width="1.15">3.0</text>
<line x1="1912.48" y1="966.8" x2="1912.48" y2="974.3" stroke="#000" stroke-width="1.5"/>
<text transform="translate(1913.98 1001.2) scale(0.95 1)" font-size="31.3" text-anchor="middle" fill="#000" stroke="#000" stroke-width="1.15">4.0</text>
<text transform="translate(1964 959.7) scale(0.96 1)" font-size="30.2" text-anchor="start" fill="#000" stroke="#000" stroke-width="1.15">m³/h</text>
<text transform="translate(1964 996) scale(0.96 1)" font-size="30.2" text-anchor="start" fill="#000" stroke="#000" stroke-width="1.15">m³/min</text>
</g>
<g>
<line x1="167.31" y1="1190.4" x2="167.31" y2="1958.5" stroke="#b9b9b9" stroke-width="1.25"/>
<line x1="278.32" y1="1190.4" x2="278.32" y2="1958.5" stroke="#b9b9b9" stroke-width="1.25"/>
<line x1="389.34" y1="1190.4" x2="389.34" y2="1958.5" stroke="#b9b9b9" stroke-width="1.25"/>
<line x1="500.35" y1="1190.4" x2="500.35" y2="1958.5" stroke="#b9b9b9" stroke-width="1.25"/>
<line x1="611.36" y1="1190.4" x2="611.36" y2="1958.5" stroke="#b9b9b9" stroke-width="1.25"/>
<line x1="722.38" y1="1300.13" x2="722.38" y2="1958.5" stroke="#b9b9b9" stroke-width="1.25"/>
<line x1="833.39" y1="1300.13" x2="833.39" y2="1958.5" stroke="#b9b9b9" stroke-width="1.25"/>
<line x1="111.8" y1="1903.64" x2="888.9" y2="1903.64" stroke="#b9b9b9" stroke-width="1.25"/>
<line x1="111.8" y1="1793.91" x2="888.9" y2="1793.91" stroke="#b9b9b9" stroke-width="1.25"/>
<line x1="111.8" y1="1684.18" x2="888.9" y2="1684.18" stroke="#b9b9b9" stroke-width="1.25"/>
<line x1="111.8" y1="1574.45" x2="888.9" y2="1574.45" stroke="#b9b9b9" stroke-width="1.25"/>
<line x1="111.8" y1="1464.72" x2="888.9" y2="1464.72" stroke="#b9b9b9" stroke-width="1.25"/>
<line x1="111.8" y1="1354.99" x2="888.9" y2="1354.99" stroke="#b9b9b9" stroke-width="1.25"/>
<line x1="111.8" y1="1245.26" x2="722.38" y2="1245.26" stroke="#b9b9b9" stroke-width="1.25"/>
<line x1="111.8" y1="1848.77" x2="888.9" y2="1848.77" stroke="#000" stroke-width="2.7"/>
<line x1="111.8" y1="1739.04" x2="888.9" y2="1739.04" stroke="#000" stroke-width="2.7"/>
<line x1="111.8" y1="1629.31" x2="888.9" y2="1629.31" stroke="#000" stroke-width="2.7"/>
<line x1="111.8" y1="1519.59" x2="888.9" y2="1519.59" stroke="#000" stroke-width="2.7"/>
<line x1="111.8" y1="1409.86" x2="888.9" y2="1409.86" stroke="#000" stroke-width="2.7"/>
<line x1="111.8" y1="1300.13" x2="888.9" y2="1300.13" stroke="#000" stroke-width="2.7"/>
<line x1="222.81" y1="1190.4" x2="222.81" y2="1958.5" stroke="#000" stroke-width="2.7"/>
<line x1="333.83" y1="1190.4" x2="333.83" y2="1958.5" stroke="#000" stroke-width="2.7"/>
<line x1="444.84" y1="1190.4" x2="444.84" y2="1958.5" stroke="#000" stroke-width="2.7"/>
<line x1="555.86" y1="1190.4" x2="555.86" y2="1958.5" stroke="#000" stroke-width="2.7"/>
<line x1="666.87" y1="1190.4" x2="666.87" y2="1958.5" stroke="#000" stroke-width="2.7"/>
<line x1="777.89" y1="1300.13" x2="777.89" y2="1958.5" stroke="#000" stroke-width="2.7"/>
<line x1="722.38" y1="1190.4" x2="722.38" y2="1300.13" stroke="#000" stroke-width="2.7"/>
<rect x="111.8" y="1190.4" width="777.1" height="768.1" fill="none" stroke="#000" stroke-width="2.9"/>
<path d="M111.8 1245.26 L120.02 1246.76 L128.37 1248.2 L136.69 1249.73 L144.97 1251.36 L153.22 1253.08 L161.43 1254.89 L169.6 1256.79 L177.75 1258.79 L185.85 1260.87 L193.93 1263.04 L201.96 1265.3 L209.97 1267.65 L217.94 1270.09 L225.88 1272.61 L233.78 1275.22 L241.66 1277.91 L249.5 1280.69 L257.3 1283.54 L265.08 1286.49 L272.82 1289.51 L280.54 1292.61 L288.22 1295.79 L295.87 1299.06 L303.49 1302.4 L311.07 1305.82 L318.63 1309.31 L326.16 1312.88 L333.66 1316.53 L341.12 1320.25 L348.56 1324.05 L355.97 1327.91 L363.35 1331.85 L370.7 1335.87 L378.03 1339.95 L385.32 1344.1 L392.59 1348.32 L399.82 1352.61 L407.03 1356.97 L414.2 1361.4 L421.33 1365.9 L428.43 1370.47 L435.48 1375.11 L442.49 1379.82 L449.45 1384.6 L456.36 1389.46 L463.22 1394.38 L470.02 1399.38 L476.77 1404.45 L483.46 1409.59 L490.08 1414.81 L496.64 1420.1 L503.13 1425.46 L509.55 1430.9 L515.9 1436.41 L522.18 1442 L528.37 1447.66 L534.49 1453.4 L540.52 1459.21 L546.47 1465.1 L552.33 1471.06 L558.1 1477.1 L563.77 1483.22 L569.35 1489.42 L574.84 1495.69 L580.22 1502.04 L585.5 1508.47 L590.67 1514.98 L595.74 1521.56 L600.69 1528.23 L605.54 1534.97 L610.27 1541.79 L614.91 1548.68 L619.43 1555.64 L623.85 1562.67 L628.17 1569.77 L632.38 1576.93 L636.5 1584.16 L640.51 1591.44 L644.42 1598.79 L648.24 1606.2 L651.96 1613.66 L655.58 1621.18 L659.11 1628.74 L662.55 1636.36 L665.89 1644.03 L669.14 1651.74 L672.3 1659.5 L675.37 1667.3 L678.35 1675.14 L681.25 1683.02 L684.06 1690.94 L686.79 1698.9 L689.43 1706.88 L691.99 1714.9 L694.46 1722.95 L696.86 1731.02 L699.18 1739.12 L701.42 1747.24 L703.58 1755.39 L705.66 1763.55 L707.67 1771.74 L709.61 1779.94 L711.48 1788.15 L713.27 1796.38 L714.99 1804.61 L716.64 1812.86 L718.23 1821.11 L719.74 1829.37 L721.19 1837.63 L722.58 1845.89 L723.9 1854.15 L725.16 1862.41 L726.36 1870.66 L727.49 1878.91 L728.57 1887.14 L729.59 1895.37 L730.55 1903.58 L731.45 1911.79 L732.92 1920.1" fill="none" stroke="#ff0000" stroke-width="2.9" stroke-linecap="butt"/>
<path d="M111.8 1354.99 L118.05 1356.31 L124.3 1357.88 L130.46 1359.61 L136.53 1361.51 L142.5 1363.57 L148.39 1365.78 L154.19 1368.13 L159.9 1370.64 L165.53 1373.27 L171.09 1376.05 L176.57 1378.95 L181.97 1381.97 L187.3 1385.11 L192.57 1388.36 L197.77 1391.72 L202.9 1395.19 L207.97 1398.75 L212.99 1402.41 L217.95 1406.15 L222.85 1409.98 L227.7 1413.89 L232.51 1417.86 L237.27 1421.91 L241.98 1426.02 L246.66 1430.19 L251.3 1434.41 L255.9 1438.68 L260.46 1442.99 L265 1447.34 L269.51 1451.72 L273.99 1456.13 L278.45 1460.57 L282.89 1465.02 L287.31 1469.49 L291.7 1473.98 L296.08 1478.49 L300.43 1483.02 L304.76 1487.57 L309.07 1492.13 L313.35 1496.72 L317.62 1501.32 L321.86 1505.94 L326.07 1510.58 L330.27 1515.24 L334.44 1519.92 L338.59 1524.62 L342.71 1529.34 L346.82 1534.07 L350.89 1538.82 L354.95 1543.59 L358.97 1548.38 L362.98 1553.19 L366.96 1558.02 L370.91 1562.87 L374.84 1567.73 L378.75 1572.61 L382.63 1577.52 L386.48 1582.44 L390.31 1587.38 L394.11 1592.33 L397.88 1597.31 L401.63 1602.31 L405.35 1607.32 L409.05 1612.35 L412.72 1617.4 L416.36 1622.47 L419.98 1627.56 L423.56 1632.67 L427.12 1637.79 L430.64 1642.94 L434.13 1648.11 L437.58 1653.31 L440.98 1658.53 L444.34 1663.79 L447.65 1669.07 L450.92 1674.38 L454.14 1679.73 L457.31 1685.1 L460.43 1690.49 L463.51 1695.92 L466.55 1701.37 L469.55 1706.85 L472.5 1712.35 L475.41 1717.88 L478.27 1723.43 L481.1 1729 L483.88 1734.6 L486.63 1740.22 L489.34 1745.86 L492.01 1751.52 L494.65 1757.2 L497.25 1762.89 L499.82 1768.61 L502.36 1774.33 L504.87 1780.07 L507.35 1785.83 L509.81 1791.59 L512.23 1797.38 L514.62 1803.17 L516.98 1808.97 L519.32 1814.79 L521.62 1820.62 L523.89 1826.46 L526.13 1832.31 L528.34 1838.17 L530.52 1844.04 L532.67 1849.92 L534.79 1855.81 L536.87 1861.71 L538.93 1867.62 L540.95 1873.54 L542.94 1879.46 L544.9 1885.39 L546.82 1891.33 L548.72 1897.28 L550.58 1903.24 L552.41 1909.2 L554.21 1915.16 L555.86 1921.19" fill="none" stroke="#ff0000" stroke-width="2.9" stroke-linecap="butt"/>
<path d="M111.8 1530.56 L116.56 1530.85 L121.19 1531.82 L125.78 1532.88 L130.34 1534.02 L134.85 1535.25 L139.33 1536.55 L143.76 1537.95 L148.16 1539.42 L152.52 1540.96 L156.84 1542.59 L161.12 1544.29 L165.37 1546.06 L169.57 1547.91 L173.74 1549.82 L177.88 1551.81 L181.98 1553.86 L186.04 1555.97 L190.06 1558.16 L194.05 1560.4 L198.01 1562.7 L201.93 1565.07 L205.81 1567.49 L209.66 1569.97 L213.48 1572.5 L217.26 1575.09 L221.01 1577.73 L224.73 1580.42 L228.41 1583.16 L232.06 1585.94 L235.67 1588.78 L239.26 1591.66 L242.81 1594.58 L246.33 1597.55 L249.82 1600.56 L253.27 1603.61 L256.69 1606.71 L260.09 1609.84 L263.45 1613.02 L266.78 1616.23 L270.08 1619.48 L273.35 1622.76 L276.58 1626.08 L279.79 1629.44 L282.97 1632.83 L286.11 1636.25 L289.23 1639.7 L292.32 1643.18 L295.38 1646.69 L298.41 1650.22 L301.41 1653.79 L304.38 1657.38 L307.32 1661 L310.23 1664.64 L313.12 1668.3 L315.98 1671.99 L318.8 1675.7 L321.61 1679.42 L324.38 1683.17 L327.13 1686.93 L329.84 1690.72 L332.54 1694.51 L335.2 1698.33 L337.84 1702.16 L340.45 1706 L343.04 1709.86 L345.59 1713.73 L348.13 1717.61 L350.63 1721.51 L353.11 1725.43 L355.56 1729.36 L357.99 1733.3 L360.39 1737.25 L362.76 1741.22 L365.11 1745.21 L367.43 1749.2 L369.73 1753.21 L372 1757.23 L374.24 1761.27 L376.46 1765.32 L378.65 1769.38 L380.82 1773.45 L382.96 1777.54 L385.08 1781.64 L387.17 1785.75 L389.23 1789.87 L391.27 1794.01 L393.28 1798.16 L395.27 1802.32 L397.24 1806.49 L399.18 1810.67 L401.09 1814.86 L402.98 1819.07 L404.84 1823.29 L406.68 1827.51 L408.49 1831.75 L410.28 1836 L412.05 1840.27 L413.79 1844.54 L415.5 1848.82 L417.2 1853.11 L418.86 1857.42 L420.5 1861.73 L422.12 1866.05 L423.72 1870.39 L425.29 1874.73 L426.83 1879.08 L428.35 1883.45 L429.85 1887.82 L431.32 1892.2 L432.77 1896.59 L434.2 1900.99 L435.6 1905.4 L436.98 1909.82 L438.34 1914.25 L439.67 1918.68 L440.97 1923.13 L442.26 1927.58 L443.52 1932.04 L444.84 1936.55" fill="none" stroke="#ff0000" stroke-width="2.9" stroke-linecap="butt"/>
<path d="M111.8 1601.88 L114.81 1602.99 L117.59 1604.43 L120.34 1605.9 L123.07 1607.4 L125.77 1608.94 L128.45 1610.5 L131.1 1612.1 L133.73 1613.72 L136.34 1615.37 L138.92 1617.05 L141.47 1618.76 L144.01 1620.5 L146.51 1622.27 L149 1624.06 L151.46 1625.88 L153.9 1627.73 L156.31 1629.6 L158.71 1631.5 L161.08 1633.43 L163.42 1635.38 L165.75 1637.35 L168.05 1639.35 L170.33 1641.38 L172.59 1643.42 L174.82 1645.49 L177.04 1647.59 L179.23 1649.71 L181.4 1651.84 L183.55 1654.01 L185.68 1656.19 L187.79 1658.39 L189.87 1660.62 L191.94 1662.86 L193.99 1665.13 L196.01 1667.41 L198.02 1669.72 L200 1672.04 L201.97 1674.39 L203.91 1676.75 L205.84 1679.13 L207.75 1681.52 L209.64 1683.94 L211.51 1686.37 L213.36 1688.82 L215.19 1691.28 L217 1693.76 L218.8 1696.25 L220.57 1698.76 L222.33 1701.29 L224.07 1703.83 L225.8 1706.38 L227.5 1708.95 L229.19 1711.53 L230.86 1714.12 L232.51 1716.73 L234.15 1719.34 L235.77 1721.97 L237.37 1724.61 L238.96 1727.27 L240.53 1729.93 L242.09 1732.6 L243.62 1735.29 L245.15 1737.98 L246.65 1740.68 L248.14 1743.39 L249.62 1746.11 L251.08 1748.84 L252.52 1751.58 L253.95 1754.33 L255.37 1757.08 L256.76 1759.84 L258.14 1762.61 L259.51 1765.39 L260.86 1768.18 L262.2 1770.97 L263.52 1773.77 L264.82 1776.57 L266.11 1779.39 L267.38 1782.21 L268.64 1785.03 L269.88 1787.87 L271.1 1790.7 L272.31 1793.55 L273.51 1796.4 L274.68 1799.25 L275.85 1802.11 L276.99 1804.98 L278.13 1807.85 L279.24 1810.73 L280.34 1813.61 L281.43 1816.49 L282.49 1819.38 L283.55 1822.27 L284.59 1825.17 L285.61 1828.07 L286.61 1830.97 L287.6 1833.88 L288.58 1836.79 L289.54 1839.71 L290.48 1842.62 L291.41 1845.54 L292.32 1848.46 L293.22 1851.39 L294.1 1854.31 L294.97 1857.24 L295.82 1860.17 L296.65 1863.1 L297.47 1866.03 L298.27 1868.97 L299.06 1871.9 L299.83 1874.84 L300.59 1877.77 L301.33 1880.71 L302.05 1883.64 L302.76 1886.58 L303.45 1889.52 L304.13 1892.45 L304.79 1895.39 L304.96 1898.7" fill="none" stroke="#ff0000" stroke-width="2.9" stroke-linecap="butt"/>
<path d="M111.8 1739.04 L113.66 1740.03 L115.51 1741.04 L117.35 1742.05 L119.18 1743.09 L121 1744.13 L122.81 1745.19 L124.6 1746.26 L126.39 1747.34 L128.17 1748.44 L129.94 1749.55 L131.7 1750.67 L133.44 1751.8 L135.18 1752.94 L136.91 1754.1 L138.63 1755.26 L140.34 1756.44 L142.04 1757.63 L143.73 1758.84 L145.42 1760.05 L147.09 1761.27 L148.76 1762.51 L150.41 1763.75 L152.06 1765.01 L153.7 1766.27 L155.32 1767.55 L156.95 1768.84 L158.56 1770.13 L160.16 1771.44 L161.76 1772.76 L163.35 1774.08 L164.93 1775.42 L166.5 1776.76 L168.06 1778.12 L169.62 1779.48 L171.17 1780.85 L172.71 1782.23 L174.24 1783.62 L175.77 1785.02 L177.29 1786.43 L178.8 1787.84 L180.3 1789.27 L181.8 1790.7 L183.29 1792.14 L184.77 1793.58 L186.25 1795.04 L187.72 1796.5 L189.18 1797.97 L190.64 1799.44 L192.09 1800.93 L193.53 1802.42 L194.97 1803.91 L196.4 1805.42 L197.83 1806.93 L199.25 1808.44 L200.66 1809.96 L202.07 1811.49 L203.47 1813.03 L204.87 1814.57 L206.26 1816.11 L207.65 1817.67 L209.03 1819.22 L210.4 1820.78 L211.77 1822.35 L213.14 1823.92 L214.5 1825.5 L215.85 1827.08 L217.21 1828.67 L218.55 1830.26 L219.89 1831.86 L221.23 1833.46 L222.56 1835.06 L223.89 1836.67 L225.22 1838.28 L226.54 1839.89 L227.85 1841.51 L229.16 1843.13 L230.47 1844.76 L231.78 1846.39 L233.08 1848.02 L234.37 1849.65 L235.67 1851.29 L236.96 1852.93 L238.25 1854.57 L239.53 1856.21 L240.81 1857.86 L242.09 1859.51 L243.36 1861.16 L244.63 1862.81 L245.9 1864.46 L247.17 1866.12 L248.43 1867.77 L249.7 1869.43 L250.96 1871.09 L252.21 1872.75 L253.47 1874.41 L254.72 1876.07 L255.97 1877.73 L257.22 1879.39 L258.47 1881.05 L259.71 1882.71 L260.95 1884.38 L262.2 1886.04 L263.44 1887.7 L264.68 1889.36 L265.91 1891.02 L267.15 1892.68 L268.38 1894.34 L269.62 1896 L270.85 1897.65 L272.09 1899.31 L273.32 1900.96 L274.55 1902.62 L275.78 1904.27 L277.01 1905.92 L278.24 1907.56 L279.47 1909.21 L280.7 1910.85 L281.93 1912.49 L283.32 1914.06" fill="none" stroke="#ff0000" stroke-width="2.9" stroke-linecap="butt"/>
<text transform="translate(316.2 1296.8) rotate(26.3) scale(0.96 1)" font-size="30.5" fill="#000" stroke="#000" stroke-width="1.0">SH437W</text>
<text transform="translate(297.2 1455.6) rotate(49.8) scale(0.96 1)" font-size="30.5" fill="#000" stroke="#000" stroke-width="1.0">SH322W</text>
<text transform="translate(227.5 1569.9) rotate(39) scale(0.96 1)" font-size="30.5" fill="#000" stroke="#000" stroke-width="1.0">SH311W</text>
<text transform="translate(196.4 1648.2) rotate(53.4) scale(0.96 1)" font-size="30.5" fill="#000" stroke="#000" stroke-width="1.0">SH25.5W</text>
<text transform="translate(142.3 1743.5) rotate(40) scale(0.96 1)" font-size="30.5" fill="#000" stroke="#000" stroke-width="1.0">SH23.0W</text>
<text transform="translate(101.8 1860.47) scale(0.905 1)" font-size="32.9" text-anchor="end" fill="#000" stroke="#000" stroke-width="1.15">20</text>
<text transform="translate(101.8 1750.74) scale(0.905 1)" font-size="32.9" text-anchor="end" fill="#000" stroke="#000" stroke-width="1.15">40</text>
<text transform="translate(101.8 1641.01) scale(0.905 1)" font-size="32.9" text-anchor="end" fill="#000" stroke="#000" stroke-width="1.15">60</text>
<text transform="translate(101.8 1531.29) scale(0.905 1)" font-size="32.9" text-anchor="end" fill="#000" stroke="#000" stroke-width="1.15">80</text>
<text transform="translate(101.8 1421.56) scale(0.905 1)" font-size="32.9" text-anchor="end" fill="#000" stroke="#000" stroke-width="1.15">100</text>
<text transform="translate(101.8 1311.83) scale(0.905 1)" font-size="32.9" text-anchor="end" fill="#000" stroke="#000" stroke-width="1.15">120</text>
<text transform="translate(100.3 1959.1) scale(0.905 1)" font-size="32.9" text-anchor="end" fill="#000" stroke="#000" stroke-width="1.15">0</text>
<text transform="translate(108.2 1207) scale(0.96 1)" font-size="29.8" text-anchor="end" fill="#000" stroke="#000" stroke-width="1.7">H(m)</text>
<line x1="888.9" y1="1958.5" x2="899.4" y2="1958.5" stroke="#000" stroke-width="1.9"/>
<text transform="translate(906.9 1969.1) scale(0.95 1)" font-size="31.3" text-anchor="start" fill="#000" stroke="#000" stroke-width="1.15">0</text>
<line x1="888.9" y1="1874.89" x2="899.4" y2="1874.89" stroke="#000" stroke-width="1.9"/>
<text transform="translate(906.9 1885.49) scale(0.95 1)" font-size="31.3" text-anchor="start" fill="#000" stroke="#000" stroke-width="1.15">50</text>
<line x1="888.9" y1="1791.27" x2="899.4" y2="1791.27" stroke="#000" stroke-width="1.9"/>
<text transform="translate(906.9 1801.87) scale(0.95 1)" font-size="31.3" text-anchor="start" fill="#000" stroke="#000" stroke-width="1.15">100</text>
<line x1="888.9" y1="1707.66" x2="899.4" y2="1707.66" stroke="#000" stroke-width="1.9"/>
<text transform="translate(906.9 1718.26) scale(0.95 1)" font-size="31.3" text-anchor="start" fill="#000" stroke="#000" stroke-width="1.15">150</text>
<line x1="888.9" y1="1624.05" x2="899.4" y2="1624.05" stroke="#000" stroke-width="1.9"/>
<text transform="translate(906.9 1634.65) scale(0.95 1)" font-size="31.3" text-anchor="start" fill="#000" stroke="#000" stroke-width="1.15">200</text>
<line x1="888.9" y1="1540.43" x2="899.4" y2="1540.43" stroke="#000" stroke-width="1.9"/>
<text transform="translate(906.9 1551.03) scale(0.95 1)" font-size="31.3" text-anchor="start" fill="#000" stroke="#000" stroke-width="1.15">250</text>
<line x1="888.9" y1="1456.82" x2="899.4" y2="1456.82" stroke="#000" stroke-width="1.9"/>
<text transform="translate(906.9 1467.42) scale(0.95 1)" font-size="31.3" text-anchor="start" fill="#000" stroke="#000" stroke-width="1.15">300</text>
<line x1="888.9" y1="1373.21" x2="899.4" y2="1373.21" stroke="#000" stroke-width="1.9"/>
<text transform="translate(906.9 1383.81) scale(0.95 1)" font-size="31.3" text-anchor="start" fill="#000" stroke="#000" stroke-width="1.15">350</text>
<line x1="888.9" y1="1289.59" x2="899.4" y2="1289.59" stroke="#000" stroke-width="1.9"/>
<text transform="translate(906.9 1300.19) scale(0.95 1)" font-size="31.3" text-anchor="start" fill="#000" stroke="#000" stroke-width="1.15">400</text>
<text transform="translate(901.1 1207) scale(0.96 1)" font-size="29.8" text-anchor="start" fill="#000" stroke="#000" stroke-width="1.7">H(ft)</text>
<text transform="translate(754 1261.3) scale(0.96 1)" font-size="45.4" text-anchor="start" fill="#1565d8" stroke="#1565d8" stroke-width="0.7">60Hz</text>
<text transform="translate(888.6 1172.6) scale(0.96 1)" font-size="35.1" text-anchor="end" fill="#000" stroke="#000" stroke-width="1.0">synchronous speed: 3600rpm</text>
<text transform="translate(222.81 1983.7) scale(0.95 1)" font-size="31.3" text-anchor="middle" fill="#000" stroke="#000" stroke-width="1.15">20</text>
<text transform="translate(333.83 1983.7) scale(0.95 1)" font-size="31.3" text-anchor="middle" fill="#000" stroke="#000" stroke-width="1.15">40</text>
<text transform="translate(444.84 1983.7) scale(0.95 1)" font-size="31.3" text-anchor="middle" fill="#000" stroke="#000" stroke-width="1.15">60</text>
<text transform="translate(555.86 1983.7) scale(0.95 1)" font-size="31.3" text-anchor="middle" fill="#000" stroke="#000" stroke-width="1.15">80</text>
<text transform="translate(666.87 1983.7) scale(0.95 1)" font-size="31.3" text-anchor="middle" fill="#000" stroke="#000" stroke-width="1.15">100</text>
<text transform="translate(777.89 1983.7) scale(0.95 1)" font-size="31.3" text-anchor="middle" fill="#000" stroke="#000" stroke-width="1.15">120</text>
<line x1="110.5" y1="1998.9" x2="890.2" y2="1998.9" stroke="#000" stroke-width="2.8"/>
<line x1="111.8" y1="1989.9" x2="111.8" y2="1998.9" stroke="#000" stroke-width="1.5"/>
<text transform="translate(113 2033.3) scale(0.95 1)" font-size="31.3" text-anchor="middle" fill="#000" stroke="#000" stroke-width="1.15">0</text>
<line x1="278.32" y1="1998.9" x2="278.32" y2="2006.4" stroke="#000" stroke-width="1.5"/>
<text transform="translate(279.82 2033.3) scale(0.95 1)" font-size="31.3" text-anchor="middle" fill="#000" stroke="#000" stroke-width="1.15">0.5</text>
<line x1="444.84" y1="1998.9" x2="444.84" y2="2006.4" stroke="#000" stroke-width="1.5"/>
<text transform="translate(446.34 2033.3) scale(0.95 1)" font-size="31.3" text-anchor="middle" fill="#000" stroke="#000" stroke-width="1.15">1.0</text>
<line x1="611.36" y1="1998.9" x2="611.36" y2="2006.4" stroke="#000" stroke-width="1.5"/>
<text transform="translate(612.86 2033.3) scale(0.95 1)" font-size="31.3" text-anchor="middle" fill="#000" stroke="#000" stroke-width="1.15">1.5</text>
<line x1="777.89" y1="1998.9" x2="777.89" y2="2006.4" stroke="#000" stroke-width="1.5"/>
<text transform="translate(779.39 2033.3) scale(0.95 1)" font-size="31.3" text-anchor="middle" fill="#000" stroke="#000" stroke-width="1.15">2.0</text>
<text x="941.4" y="1996.3" font-size="17.5" font-weight="bold" text-anchor="end" fill="#000">m<tspan font-size="11.5" dy="-6.5">3</tspan><tspan dy="6.5">/h</tspan></text>
<text x="950.4" y="2016.3" font-size="17.5" font-weight="bold" text-anchor="end" fill="#000">m<tspan font-size="11.5" dy="-6.5">3</tspan><tspan dy="6.5">/min</tspan></text>
</g>
<g>
<line x1="1245.46" y1="1190.5" x2="1245.46" y2="1958.4" stroke="#b9b9b9" stroke-width="1.25"/>
<line x1="1400.58" y1="1190.5" x2="1400.58" y2="1958.4" stroke="#b9b9b9" stroke-width="1.25"/>
<line x1="1555.7" y1="1190.5" x2="1555.7" y2="1958.4" stroke="#b9b9b9" stroke-width="1.25"/>
<line x1="1710.82" y1="1190.5" x2="1710.82" y2="1958.4" stroke="#b9b9b9" stroke-width="1.25"/>
<line x1="1865.94" y1="1318.48" x2="1865.94" y2="1958.4" stroke="#b9b9b9" stroke-width="1.25"/>
<line x1="1167.9" y1="1926.4" x2="1943.5" y2="1926.4" stroke="#b9b9b9" stroke-width="1.25"/>
<line x1="1167.9" y1="1862.41" x2="1943.5" y2="1862.41" stroke="#b9b9b9" stroke-width="1.25"/>
<line x1="1167.9" y1="1798.42" x2="1943.5" y2="1798.42" stroke="#b9b9b9" stroke-width="1.25"/>
<line x1="1167.9" y1="1734.43" x2="1943.5" y2="1734.43" stroke="#b9b9b9" stroke-width="1.25"/>
<line x1="1167.9" y1="1670.44" x2="1943.5" y2="1670.44" stroke="#b9b9b9" stroke-width="1.25"/>
<line x1="1167.9" y1="1606.45" x2="1943.5" y2="1606.45" stroke="#b9b9b9" stroke-width="1.25"/>
<line x1="1167.9" y1="1542.45" x2="1943.5" y2="1542.45" stroke="#b9b9b9" stroke-width="1.25"/>
<line x1="1167.9" y1="1478.46" x2="1943.5" y2="1478.46" stroke="#b9b9b9" stroke-width="1.25"/>
<line x1="1167.9" y1="1414.47" x2="1943.5" y2="1414.47" stroke="#b9b9b9" stroke-width="1.25"/>
<line x1="1167.9" y1="1350.48" x2="1943.5" y2="1350.48" stroke="#b9b9b9" stroke-width="1.25"/>
<line x1="1167.9" y1="1286.49" x2="1788.38" y2="1286.49" stroke="#b9b9b9" stroke-width="1.25"/>
<line x1="1167.9" y1="1222.5" x2="1788.38" y2="1222.5" stroke="#b9b9b9" stroke-width="1.25"/>
<line x1="1167.9" y1="1894.41" x2="1943.5" y2="1894.41" stroke="#000" stroke-width="2.4"/>
<line x1="1167.9" y1="1830.42" x2="1943.5" y2="1830.42" stroke="#000" stroke-width="2.4"/>
<line x1="1167.9" y1="1766.43" x2="1943.5" y2="1766.43" stroke="#000" stroke-width="2.4"/>
<line x1="1167.9" y1="1702.43" x2="1943.5" y2="1702.43" stroke="#000" stroke-width="2.4"/>
<line x1="1167.9" y1="1638.44" x2="1943.5" y2="1638.44" stroke="#000" stroke-width="2.4"/>
<line x1="1167.9" y1="1574.45" x2="1943.5" y2="1574.45" stroke="#000" stroke-width="2.4"/>
<line x1="1167.9" y1="1510.46" x2="1943.5" y2="1510.46" stroke="#000" stroke-width="2.4"/>
<line x1="1167.9" y1="1446.47" x2="1943.5" y2="1446.47" stroke="#000" stroke-width="2.4"/>
<line x1="1167.9" y1="1382.47" x2="1943.5" y2="1382.47" stroke="#000" stroke-width="2.4"/>
<line x1="1167.9" y1="1318.48" x2="1943.5" y2="1318.48" stroke="#000" stroke-width="2.4"/>
<line x1="1167.9" y1="1254.49" x2="1788.38" y2="1254.49" stroke="#000" stroke-width="2.4"/>
<line x1="1323.02" y1="1190.5" x2="1323.02" y2="1958.4" stroke="#000" stroke-width="2.7"/>
<line x1="1478.14" y1="1190.5" x2="1478.14" y2="1958.4" stroke="#000" stroke-width="2.7"/>
<line x1="1633.26" y1="1190.5" x2="1633.26" y2="1958.4" stroke="#000" stroke-width="2.7"/>
<line x1="1788.38" y1="1190.5" x2="1788.38" y2="1958.4" stroke="#000" stroke-width="2.7"/>
<line x1="1788.38" y1="1190.5" x2="1788.38" y2="1318.48" stroke="#000" stroke-width="2.7"/>
<rect x="1167.9" y="1190.5" width="775.6" height="767.9" fill="none" stroke="#000" stroke-width="2.9"/>
<path d="M1167.9 1232.09 L1177.47 1232.61 L1187.12 1232.99 L1196.76 1233.48 L1206.38 1234.07 L1215.99 1234.77 L1225.58 1235.56 L1235.16 1236.45 L1244.72 1237.43 L1254.27 1238.51 L1263.81 1239.68 L1273.32 1240.94 L1282.82 1242.3 L1292.31 1243.74 L1301.78 1245.27 L1311.23 1246.88 L1320.67 1248.58 L1330.09 1250.36 L1339.5 1252.23 L1348.89 1254.17 L1358.27 1256.19 L1367.63 1258.29 L1376.97 1260.46 L1386.29 1262.7 L1395.6 1265.02 L1404.89 1267.41 L1414.17 1269.87 L1423.43 1272.39 L1432.67 1274.99 L1441.9 1277.64 L1451.11 1280.36 L1460.3 1283.15 L1469.47 1285.99 L1478.63 1288.89 L1487.77 1291.85 L1496.89 1294.86 L1506 1297.93 L1515.09 1301.05 L1524.16 1304.23 L1533.21 1307.45 L1542.25 1310.72 L1551.26 1314.04 L1560.26 1317.42 L1569.22 1320.87 L1578.16 1324.39 L1587.06 1327.99 L1595.93 1331.69 L1604.75 1335.48 L1613.52 1339.39 L1622.24 1343.41 L1630.91 1347.56 L1639.53 1351.84 L1648.07 1356.26 L1656.56 1360.84 L1664.97 1365.58 L1673.31 1370.48 L1681.57 1375.56 L1689.75 1380.82 L1697.84 1386.28 L1705.82 1391.93 L1713.65 1397.79 L1721.3 1403.86 L1728.74 1410.14 L1735.94 1416.63 L1742.85 1423.34 L1749.45 1430.28 L1755.71 1437.44 L1761.58 1444.84 L1767.05 1452.48 L1772.1 1460.34 L1776.77 1468.42 L1781.06 1476.7 L1785 1485.18 L1788.62 1493.83 L1791.92 1502.64 L1794.94 1511.61 L1797.69 1520.71 L1800.19 1529.93 L1802.47 1539.27 L1804.55 1548.7 L1806.43 1558.21 L1808.16 1567.8 L1809.74 1577.44 L1811.2 1587.13 L1812.55 1596.85 L1813.83 1606.58 L1815.04 1616.32 L1816.21 1626.06 L1817.36 1635.76 L1818.52 1645.44 L1819.68 1655.07 L1820.84 1664.67 L1822 1674.24 L1823.17 1683.78 L1824.33 1693.29 L1825.48 1702.78 L1826.62 1712.26 L1827.75 1721.71 L1828.87 1731.15 L1829.97 1740.58 L1831.05 1750.01 L1832.11 1759.43 L1833.14 1768.85 L1834.15 1778.27 L1835.13 1787.7 L1836.07 1797.14 L1836.98 1806.59 L1837.85 1816.05 L1838.68 1825.53 L1839.47 1835.03 L1840.21 1844.56 L1840.91 1854.12 L1841.55 1863.7 L1842.14 1873.32 L1842.68 1882.98 L1843.15 1892.67 L1843.57 1902.41 L1843.92 1912.2 L1844.2 1922.03 L1844.22 1931.52" fill="none" stroke="#ff0000" stroke-width="2.9" stroke-linecap="butt"/>
<path d="M1167.9 1301.21 L1174.26 1301.27 L1180.82 1301.08 L1187.38 1301 L1193.93 1301.01 L1200.47 1301.12 L1206.99 1301.32 L1213.51 1301.62 L1220.01 1302.02 L1226.5 1302.51 L1232.97 1303.09 L1239.43 1303.76 L1245.88 1304.53 L1252.31 1305.38 L1258.72 1306.33 L1265.12 1307.36 L1271.49 1308.49 L1277.85 1309.7 L1284.19 1311 L1290.51 1312.39 L1296.8 1313.86 L1303.07 1315.42 L1309.33 1317.06 L1315.55 1318.79 L1321.76 1320.6 L1327.93 1322.49 L1334.08 1324.46 L1340.21 1326.52 L1346.31 1328.65 L1352.38 1330.87 L1358.42 1333.16 L1364.43 1335.53 L1370.41 1337.98 L1376.36 1340.5 L1382.28 1343.11 L1388.16 1345.78 L1394.02 1348.53 L1399.83 1351.36 L1405.62 1354.26 L1411.37 1357.23 L1417.08 1360.27 L1422.76 1363.38 L1428.4 1366.55 L1434.01 1369.8 L1439.59 1373.11 L1445.13 1376.48 L1450.63 1379.91 L1456.1 1383.41 L1461.54 1386.97 L1466.94 1390.58 L1472.31 1394.25 L1477.64 1397.98 L1482.94 1401.76 L1488.2 1405.59 L1493.43 1409.48 L1498.62 1413.41 L1503.78 1417.4 L1508.9 1421.43 L1513.99 1425.51 L1519.05 1429.63 L1524.07 1433.8 L1529.06 1438.01 L1534.01 1442.26 L1538.92 1446.55 L1543.81 1450.88 L1548.66 1455.24 L1553.47 1459.64 L1558.25 1464.08 L1562.99 1468.55 L1567.69 1473.05 L1572.35 1477.6 L1576.96 1482.18 L1581.51 1486.81 L1586 1491.49 L1590.42 1496.22 L1594.78 1501 L1599.06 1505.83 L1603.27 1510.72 L1607.39 1515.67 L1611.43 1520.68 L1615.37 1525.76 L1619.22 1530.9 L1622.96 1536.11 L1626.6 1541.39 L1630.13 1546.75 L1633.54 1552.18 L1636.83 1557.69 L1640.01 1563.27 L1643.08 1568.92 L1646.03 1574.65 L1648.88 1580.43 L1651.62 1586.28 L1654.25 1592.19 L1656.79 1598.15 L1659.22 1604.16 L1661.56 1610.22 L1663.81 1616.33 L1665.96 1622.48 L1668.03 1628.67 L1670.01 1634.89 L1671.92 1641.15 L1673.75 1647.43 L1675.52 1653.74 L1677.22 1660.07 L1678.86 1666.42 L1680.45 1672.78 L1681.99 1679.15 L1683.49 1685.52 L1684.95 1691.9 L1686.38 1698.28 L1687.78 1704.65 L1689.16 1711.02 L1690.52 1717.37 L1691.86 1723.71 L1693.2 1730.03 L1694.53 1736.33 L1695.86 1742.6 L1697.2 1748.85 L1698.55 1755.06 L1699.96 1761.31" fill="none" stroke="#ff0000" stroke-width="2.9" stroke-linecap="butt"/>
<path d="M1167.9 1299.29 L1174.81 1302.68 L1181.98 1305.6 L1189.13 1308.55 L1196.27 1311.52 L1203.4 1314.51 L1210.52 1317.53 L1217.62 1320.58 L1224.72 1323.65 L1231.79 1326.75 L1238.86 1329.87 L1245.91 1333.02 L1252.94 1336.2 L1259.97 1339.41 L1266.97 1342.65 L1273.96 1345.91 L1280.94 1349.21 L1287.9 1352.54 L1294.84 1355.89 L1301.77 1359.28 L1308.68 1362.7 L1315.57 1366.15 L1322.44 1369.64 L1329.3 1373.16 L1336.14 1376.71 L1342.96 1380.29 L1349.76 1383.91 L1356.54 1387.57 L1363.31 1391.26 L1370.05 1394.99 L1376.77 1398.75 L1383.47 1402.55 L1390.16 1406.39 L1396.82 1410.26 L1403.46 1414.17 L1410.07 1418.13 L1416.67 1422.12 L1423.24 1426.14 L1429.79 1430.21 L1436.32 1434.32 L1442.83 1438.46 L1449.31 1442.64 L1455.77 1446.86 L1462.21 1451.12 L1468.63 1455.41 L1475.02 1459.74 L1481.39 1464.11 L1487.73 1468.52 L1494.05 1472.96 L1500.34 1477.45 L1506.61 1481.97 L1512.85 1486.53 L1519.07 1491.12 L1525.25 1495.76 L1531.41 1500.44 L1537.54 1505.15 L1543.63 1509.91 L1549.7 1514.7 L1555.73 1519.54 L1561.73 1524.41 L1567.7 1529.33 L1573.64 1534.29 L1579.54 1539.28 L1585.4 1544.32 L1591.23 1549.41 L1597.01 1554.53 L1602.76 1559.7 L1608.46 1564.91 L1614.13 1570.17 L1619.74 1575.47 L1625.32 1580.81 L1630.84 1586.2 L1636.32 1591.64 L1641.75 1597.13 L1647.12 1602.66 L1652.45 1608.24 L1657.72 1613.87 L1662.93 1619.55 L1668.09 1625.28 L1673.2 1631.06 L1678.24 1636.89 L1683.22 1642.77 L1688.15 1648.7 L1693 1654.68 L1697.8 1660.71 L1702.53 1666.8 L1707.2 1672.93 L1711.8 1679.11 L1716.34 1685.34 L1720.81 1691.62 L1725.21 1697.95 L1729.54 1704.32 L1733.8 1710.74 L1737.98 1717.21 L1742.1 1723.73 L1746.14 1730.29 L1750.11 1736.89 L1754.01 1743.54 L1757.83 1750.24 L1761.57 1756.98 L1765.24 1763.76 L1768.82 1770.59 L1772.33 1777.46 L1775.76 1784.37 L1779.11 1791.33 L1782.37 1798.32 L1785.55 1805.36 L1788.65 1812.44 L1791.66 1819.56 L1794.59 1826.72 L1797.43 1833.92 L1800.19 1841.16 L1802.85 1848.43 L1805.43 1855.75 L1807.92 1863.1 L1810.32 1870.5 L1812.62 1877.92 L1814.83 1885.39 L1816.95 1892.89 L1819.09 1900.17" fill="none" stroke="#ff0000" stroke-width="2.9" stroke-linecap="butt"/>
<path d="M1167.9 1364.24 L1174.55 1367.17 L1181.25 1370.03 L1187.96 1372.86 L1194.67 1375.67 L1201.4 1378.45 L1208.13 1381.22 L1214.87 1383.97 L1221.61 1386.7 L1228.36 1389.43 L1235.11 1392.15 L1241.86 1394.87 L1248.61 1397.58 L1255.35 1400.3 L1262.1 1403.03 L1268.83 1405.76 L1275.57 1408.5 L1282.29 1411.26 L1289.01 1414.04 L1295.72 1416.83 L1302.42 1419.65 L1309.1 1422.5 L1315.77 1425.37 L1322.43 1428.28 L1329.07 1431.22 L1335.7 1434.2 L1342.3 1437.22 L1348.89 1440.29 L1355.45 1443.4 L1361.99 1446.57 L1368.51 1449.78 L1375 1453.05 L1381.47 1456.37 L1387.92 1459.75 L1394.34 1463.17 L1400.74 1466.65 L1407.11 1470.17 L1413.45 1473.74 L1419.77 1477.37 L1426.06 1481.04 L1432.33 1484.76 L1438.57 1488.52 L1444.78 1492.33 L1450.96 1496.19 L1457.12 1500.09 L1463.25 1504.04 L1469.35 1508.03 L1475.43 1512.06 L1481.47 1516.13 L1487.49 1520.25 L1493.47 1524.41 L1499.43 1528.61 L1505.36 1532.85 L1511.25 1537.13 L1517.12 1541.45 L1522.96 1545.81 L1528.76 1550.21 L1534.54 1554.64 L1540.28 1559.11 L1545.99 1563.61 L1551.67 1568.16 L1557.31 1572.74 L1562.91 1577.37 L1568.48 1582.03 L1574 1586.75 L1579.47 1591.5 L1584.91 1596.31 L1590.29 1601.17 L1595.62 1606.08 L1600.9 1611.04 L1606.12 1616.07 L1611.29 1621.14 L1616.4 1626.28 L1621.45 1631.48 L1626.43 1636.74 L1631.35 1642.07 L1636.2 1647.46 L1641 1652.9 L1645.75 1658.39 L1650.47 1663.93 L1655.14 1669.5 L1659.79 1675.1 L1664.42 1680.72 L1669.04 1686.36 L1673.65 1692.01 L1678.26 1697.66 L1682.88 1703.3 L1687.51 1708.94 L1692.15 1714.58 L1696.79 1720.21 L1701.44 1725.84 L1706.08 1731.47 L1710.72 1737.11 L1715.34 1742.75 L1719.95 1748.41 L1724.54 1754.07 L1729.11 1759.75 L1733.66 1765.45 L1738.17 1771.16 L1742.65 1776.9 L1747.09 1782.66 L1751.49 1788.45 L1755.85 1794.27 L1760.16 1800.12 L1764.41 1806 L1768.61 1811.92 L1772.74 1817.88 L1776.82 1823.89 L1780.82 1829.93 L1784.75 1836.02 L1788.61 1842.16 L1792.38 1848.36 L1796.08 1854.6 L1799.68 1860.91 L1803.19 1867.27 L1806.61 1873.69 L1809.93 1880.18 L1813.15 1886.74 L1816.26 1893.36 L1819.09 1900.17" fill="none" stroke="#ff0000" stroke-width="2.9" stroke-linecap="butt"/>
<text transform="translate(1416.9 1254.6) rotate(20.1) scale(0.96 1)" font-size="30.5" fill="#000" stroke="#000" stroke-width="1.0">SH6150W</text>
<text transform="translate(1378.4 1324.4) rotate(31.5) scale(0.96 1)" font-size="30.5" fill="#000" stroke="#000" stroke-width="1.0">SH6110W</text>
<text transform="translate(1350.2 1377.3) rotate(26.9) scale(0.96 1)" font-size="30.5" fill="#000" stroke="#000" stroke-width="1.0">SH490W</text>
<text transform="translate(1323.1 1416) rotate(26.9) scale(0.96 1)" font-size="30.5" fill="#000" stroke="#000" stroke-width="1.0">SH475W</text>
<text transform="translate(1157.4 1905.51) scale(0.95 1)" font-size="31.3" text-anchor="end" fill="#000" stroke="#000" stroke-width="1.15">20</text>
<text transform="translate(1157.4 1841.52) scale(0.95 1)" font-size="31.3" text-anchor="end" fill="#000" stroke="#000" stroke-width="1.15">40</text>
<text transform="translate(1157.4 1777.53) scale(0.95 1)" font-size="31.3" text-anchor="end" fill="#000" stroke="#000" stroke-width="1.15">60</text>
<text transform="translate(1157.4 1713.53) scale(0.95 1)" font-size="31.3" text-anchor="end" fill="#000" stroke="#000" stroke-width="1.15">80</text>
<text transform="translate(1157.4 1649.54) scale(0.95 1)" font-size="31.3" text-anchor="end" fill="#000" stroke="#000" stroke-width="1.15">100</text>
<text transform="translate(1157.4 1585.55) scale(0.95 1)" font-size="31.3" text-anchor="end" fill="#000" stroke="#000" stroke-width="1.15">120</text>
<text transform="translate(1157.4 1521.56) scale(0.95 1)" font-size="31.3" text-anchor="end" fill="#000" stroke="#000" stroke-width="1.15">140</text>
<text transform="translate(1157.4 1457.57) scale(0.95 1)" font-size="31.3" text-anchor="end" fill="#000" stroke="#000" stroke-width="1.15">160</text>
<text transform="translate(1157.4 1393.57) scale(0.95 1)" font-size="31.3" text-anchor="end" fill="#000" stroke="#000" stroke-width="1.15">180</text>
<text transform="translate(1157.4 1329.58) scale(0.95 1)" font-size="31.3" text-anchor="end" fill="#000" stroke="#000" stroke-width="1.15">200</text>
<text transform="translate(1157.4 1265.59) scale(0.95 1)" font-size="31.3" text-anchor="end" fill="#000" stroke="#000" stroke-width="1.15">220</text>
<text transform="translate(1157.4 1969.5) scale(0.95 1)" font-size="31.3" text-anchor="end" fill="#000" stroke="#000" stroke-width="1.15">0</text>
<text transform="translate(1164.3 1207.1) scale(0.96 1)" font-size="29.8" text-anchor="end" fill="#000" stroke="#000" stroke-width="1.15">H(m)</text>
<line x1="1943.5" y1="1958.4" x2="1954" y2="1958.4" stroke="#000" stroke-width="1.9"/>
<text transform="translate(1961.5 1969) scale(0.95 1)" font-size="31.3" text-anchor="start" fill="#000" stroke="#000" stroke-width="1.15">0</text>
<line x1="1943.5" y1="1909.64" x2="1954" y2="1909.64" stroke="#000" stroke-width="1.9"/>
<text transform="translate(1961.5 1920.24) scale(0.95 1)" font-size="31.3" text-anchor="start" fill="#000" stroke="#000" stroke-width="1.15">50</text>
<line x1="1943.5" y1="1860.88" x2="1954" y2="1860.88" stroke="#000" stroke-width="1.9"/>
<text transform="translate(1961.5 1871.48) scale(0.95 1)" font-size="31.3" text-anchor="start" fill="#000" stroke="#000" stroke-width="1.15">100</text>
<line x1="1943.5" y1="1812.12" x2="1954" y2="1812.12" stroke="#000" stroke-width="1.9"/>
<text transform="translate(1961.5 1822.72) scale(0.95 1)" font-size="31.3" text-anchor="start" fill="#000" stroke="#000" stroke-width="1.15">150</text>
<line x1="1943.5" y1="1763.35" x2="1954" y2="1763.35" stroke="#000" stroke-width="1.9"/>
<text transform="translate(1961.5 1773.95) scale(0.95 1)" font-size="31.3" text-anchor="start" fill="#000" stroke="#000" stroke-width="1.15">200</text>
<line x1="1943.5" y1="1714.59" x2="1954" y2="1714.59" stroke="#000" stroke-width="1.9"/>
<text transform="translate(1961.5 1725.19) scale(0.95 1)" font-size="31.3" text-anchor="start" fill="#000" stroke="#000" stroke-width="1.15">250</text>
<line x1="1943.5" y1="1665.83" x2="1954" y2="1665.83" stroke="#000" stroke-width="1.9"/>
<text transform="translate(1961.5 1676.43) scale(0.95 1)" font-size="31.3" text-anchor="start" fill="#000" stroke="#000" stroke-width="1.15">300</text>
<line x1="1943.5" y1="1617.07" x2="1954" y2="1617.07" stroke="#000" stroke-width="1.9"/>
<text transform="translate(1961.5 1627.67) scale(0.95 1)" font-size="31.3" text-anchor="start" fill="#000" stroke="#000" stroke-width="1.15">350</text>
<line x1="1943.5" y1="1568.31" x2="1954" y2="1568.31" stroke="#000" stroke-width="1.9"/>
<text transform="translate(1961.5 1578.91) scale(0.95 1)" font-size="31.3" text-anchor="start" fill="#000" stroke="#000" stroke-width="1.15">400</text>
<line x1="1943.5" y1="1519.55" x2="1954" y2="1519.55" stroke="#000" stroke-width="1.9"/>
<text transform="translate(1961.5 1530.15) scale(0.95 1)" font-size="31.3" text-anchor="start" fill="#000" stroke="#000" stroke-width="1.15">450</text>
<line x1="1943.5" y1="1470.78" x2="1954" y2="1470.78" stroke="#000" stroke-width="1.9"/>
<text transform="translate(1961.5 1481.38) scale(0.95 1)" font-size="31.3" text-anchor="start" fill="#000" stroke="#000" stroke-width="1.15">500</text>
<line x1="1943.5" y1="1422.02" x2="1954" y2="1422.02" stroke="#000" stroke-width="1.9"/>
<text transform="translate(1961.5 1432.62) scale(0.95 1)" font-size="31.3" text-anchor="start" fill="#000" stroke="#000" stroke-width="1.15">550</text>
<line x1="1943.5" y1="1373.26" x2="1954" y2="1373.26" stroke="#000" stroke-width="1.9"/>
<text transform="translate(1961.5 1383.86) scale(0.95 1)" font-size="31.3" text-anchor="start" fill="#000" stroke="#000" stroke-width="1.15">600</text>
<line x1="1943.5" y1="1324.5" x2="1954" y2="1324.5" stroke="#000" stroke-width="1.9"/>
<text transform="translate(1961.5 1335.1) scale(0.95 1)" font-size="31.3" text-anchor="start" fill="#000" stroke="#000" stroke-width="1.15">650</text>
<line x1="1943.5" y1="1275.74" x2="1954" y2="1275.74" stroke="#000" stroke-width="1.9"/>
<text transform="translate(1961.5 1286.34) scale(0.95 1)" font-size="31.3" text-anchor="start" fill="#000" stroke="#000" stroke-width="1.15">700</text>
<text transform="translate(1955.7 1207.1) scale(0.96 1)" font-size="29.8" text-anchor="start" fill="#000" stroke="#000" stroke-width="1.15">H(ft)</text>
<text transform="translate(1814.6 1271.2) scale(0.96 1)" font-size="45.4" text-anchor="start" fill="#1565d8" stroke="#1565d8" stroke-width="0.7">60Hz</text>
<text transform="translate(1943.2 1172.7) scale(0.96 1)" font-size="35.1" text-anchor="end" fill="#000" stroke="#000" stroke-width="1.0">synchronous speed: 3600rpm</text>
<text transform="translate(1323.02 1983.6) scale(0.95 1)" font-size="31.3" text-anchor="middle" fill="#000" stroke="#000" stroke-width="1.15">50</text>
<text transform="translate(1478.14 1983.6) scale(0.95 1)" font-size="31.3" text-anchor="middle" fill="#000" stroke="#000" stroke-width="1.15">100</text>
<text transform="translate(1633.26 1983.6) scale(0.95 1)" font-size="31.3" text-anchor="middle" fill="#000" stroke="#000" stroke-width="1.15">150</text>
<text transform="translate(1788.38 1983.6) scale(0.95 1)" font-size="31.3" text-anchor="middle" fill="#000" stroke="#000" stroke-width="1.15">200</text>
<line x1="1166.6" y1="1998.8" x2="1944.8" y2="1998.8" stroke="#000" stroke-width="2.8"/>
<line x1="1167.9" y1="1989.8" x2="1167.9" y2="1998.8" stroke="#000" stroke-width="1.5"/>
<text transform="translate(1169.1 2033.2) scale(0.95 1)" font-size="31.3" text-anchor="middle" fill="#000" stroke="#000" stroke-width="1.15">0</text>
<line x1="1354.04" y1="1998.8" x2="1354.04" y2="2006.3" stroke="#000" stroke-width="1.5"/>
<text transform="translate(1355.54 2033.2) scale(0.95 1)" font-size="31.3" text-anchor="middle" fill="#000" stroke="#000" stroke-width="1.15">1.0</text>
<line x1="1540.19" y1="1998.8" x2="1540.19" y2="2006.3" stroke="#000" stroke-width="1.5"/>
<text transform="translate(1541.69 2033.2) scale(0.95 1)" font-size="31.3" text-anchor="middle" fill="#000" stroke="#000" stroke-width="1.15">2.0</text>
<line x1="1726.33" y1="1998.8" x2="1726.33" y2="2006.3" stroke="#000" stroke-width="1.5"/>
<text transform="translate(1727.83 2033.2) scale(0.95 1)" font-size="31.3" text-anchor="middle" fill="#000" stroke="#000" stroke-width="1.15">3.0</text>
<line x1="1912.48" y1="1998.8" x2="1912.48" y2="2006.3" stroke="#000" stroke-width="1.5"/>
<text transform="translate(1913.98 2033.2) scale(0.95 1)" font-size="31.3" text-anchor="middle" fill="#000" stroke="#000" stroke-width="1.15">4.0</text>
<text transform="translate(1964 1991.7) scale(0.96 1)" font-size="30.2" text-anchor="start" fill="#000" stroke="#000" stroke-width="1.15">m³/h</text>
<text transform="translate(1964 2028) scale(0.96 1)" font-size="30.2" text-anchor="start" fill="#000" stroke="#000" stroke-width="1.15">m³/min</text>
</g>
</svg>
<table class="perf"><colgroup>
<col style="width:264.2px">
<col style="width:126px">
<col style="width:84.2px">
<col style="width:85.4px">
<col style="width:178.6px">
<col style="width:180.2px">
<col style="width:152.8px">
<col style="width:153.5px">
<col style="width:157.7px">
<col style="width:152.7px">
<col style="width:153px">
<col style="width:158.4px">
<col style="width:158.5px">
</colgroup>
<thead>
<tr style="height:94.8px"><th rowspan="2"><div style="top:-2.5px;line-height:36.6px;"><span class="cx" style="transform:scaleX(0.963);margin:0 0px">Model<br>(50/60Hz)</span></div></th><th><div style="top:-1px;"><span class="cx" style="transform:scaleX(0.963);margin:0 0px">Outlet</span></div></th><th colspan="2"><div style="top:-3.5px;line-height:35.2px;"><span class="cx" style="transform:scaleX(0.963);margin:0 0px">Motor<br>power</span></div></th><th rowspan="2"><div style="top:0px;line-height:36.3px;"><span class="cx" style="transform:scaleX(0.963);margin:0 0px">Starting<br>method</span></div></th><th><div style="top:-1px;"><span class="cx" style="transform:scaleX(0.82);margin:0 -22px"><span style="letter-spacing:-1.2px">Rated current</span></span></div></th><th colspan="2"><div style="top:-2.2px;"><span class="cx" style="transform:scaleX(0.963);margin:0 0px">Rated capacity</span></div></th><th><div style="top:0px;line-height:35.2px;"><span class="cx" style="transform:scaleX(0.963);margin:0 0px">Rated<br>head</span></div></th><th colspan="2"><div style="top:-2.2px;"><span class="cx" style="transform:scaleX(0.963);margin:0 0px">Max capacity</span></div></th><th><div style="top:0px;line-height:35.2px;"><span class="cx" style="transform:scaleX(0.963);margin:0 0px">Max<br>head</span></div></th><th><div style="top:-3.5px;line-height:35.2px;"><span class="cx" style="transform:scaleX(0.963);margin:0 -2px">Impeller<br>passage</span></div></th></tr>
<tr style="height:47.7px"><th><div style="top:0px;"><span class="cx" style="transform:scaleX(0.963);margin:0 0px">mm</span></div></th><th><div style="top:0px;"><span class="cx" style="transform:scaleX(0.963);margin:0 0px">kW</span></div></th><th><div style="top:0px;"><span class="cx" style="transform:scaleX(0.963);margin:0 0px">HP</span></div></th><th><div style="top:0px;"><span class="cx" style="transform:scaleX(0.963);margin:0 0px">A</span></div></th><th><div style="top:0px;"><span class="cx" style="transform:scaleX(0.963);margin:0 0px">m³/h</span></div></th><th><div style="top:0px;"><span class="cx" style="transform:scaleX(0.963);margin:0 0px">m³/min</span></div></th><th><div style="top:0px;"><span class="cx" style="transform:scaleX(0.963);margin:0 0px">m</span></div></th><th><div style="top:0px;"><span class="cx" style="transform:scaleX(0.963);margin:0 0px">m³/h</span></div></th><th><div style="top:0px;"><span class="cx" style="transform:scaleX(0.963);margin:0 0px">m³/min</span></div></th><th><div style="top:0px;"><span class="cx" style="transform:scaleX(0.963);margin:0 0px">m</span></div></th><th><div style="top:0px;"><span class="cx" style="transform:scaleX(0.963);margin:0 0px">mm</span></div></th></tr>
</thead><tbody>
<tr>
<td class="m"><span class="cx">SH23.0W</span></td><td><span class="cx">50</span></td><td><span class="cx">3.0</span></td><td><span class="cx">4.0</span></td><td><span class="cx">D.O.L.</span></td><td><span class="cx">6.2/6.3</span></td><td><span class="cx">18</span></td><td><span class="cx">0.3</span></td><td><span class="cx">26</span></td><td><span class="cx">30</span></td><td><span class="cx">0.5</span></td><td><span class="cx">39</span></td><td><span class="cx">6</span></td>
</tr>
<tr class="alt">
<td class="m"><span class="cx">SH25.5W</span></td><td><span class="cx">50</span></td><td><span class="cx">5.5</span></td><td><span class="cx">7.5</span></td><td><span class="cx">D.O.L.</span></td><td><span class="cx">11.4/11.6</span></td><td><span class="cx">18</span></td><td><span class="cx">0.3</span></td><td><span class="cx">48</span></td><td><span class="cx">35</span></td><td><span class="cx">0.59</span></td><td><span class="cx">65</span></td><td><span class="cx">6</span></td>
</tr>
<tr>
<td class="m"><span class="cx">SH311W</span></td><td><span class="cx">80</span></td><td><span class="cx">11</span></td><td><span class="cx">15</span></td><td><span class="cx">D.O.L.</span></td><td><span class="cx">22/22.5</span></td><td><span class="cx">30</span></td><td><span class="cx">0.5</span></td><td><span class="cx">60</span></td><td><span class="cx">60</span></td><td><span class="cx">1.0</span></td><td><span class="cx">78</span></td><td><span class="cx">8.5</span></td>
</tr>
<tr class="alt">
<td class="m"><span class="cx">SH322W</span></td><td><span class="cx">80</span></td><td><span class="cx">22</span></td><td><span class="cx">30</span></td><td><span class="cx">Star-Delta</span></td><td><span class="cx">41.5/42</span></td><td><span class="cx">40</span></td><td><span class="cx">0.67</span></td><td><span class="cx">80</span></td><td><span class="cx">78</span></td><td><span class="cx">1.30</span></td><td><span class="cx">110</span></td><td><span class="cx">8.5</span></td>
</tr>
<tr>
<td class="m"><span class="cx">SH437W</span></td><td><span class="cx">100</span></td><td><span class="cx">37</span></td><td><span class="cx">50</span></td><td><span class="cx">Star-Delta</span></td><td><span class="cx">66/68</span></td><td><span class="cx">60</span></td><td><span class="cx">1.0</span></td><td><span class="cx">105</span></td><td><span class="cx">112</span></td><td><span class="cx">1.87</span></td><td><span class="cx">130</span></td><td><span class="cx">6</span></td>
</tr>
<tr class="alt">
<td class="m"><span class="cx">SH475W</span></td><td><span class="cx">100</span></td><td><span class="cx">75</span></td><td><span class="cx">100</span></td><td><span class="cx">Star-Delta</span></td><td><span class="cx">134/139</span></td><td><span class="cx">120</span></td><td><span class="cx">2.0</span></td><td><span class="cx">125</span></td><td><span class="cx">210</span></td><td><span class="cx">3.5</span></td><td><span class="cx">185</span></td><td><span class="cx">15</span></td>
</tr>
<tr>
<td class="m"><span class="cx">SH490W</span></td><td><span class="cx">100</span></td><td><span class="cx">90</span></td><td><span class="cx">120</span></td><td><span class="cx">Star-Delta</span></td><td><span class="cx">162/166</span></td><td><span class="cx">120</span></td><td><span class="cx">2.0</span></td><td><span class="cx">140</span></td><td><span class="cx">210</span></td><td><span class="cx">3.5</span></td><td><span class="cx">205</span></td><td><span class="cx">15</span></td>
</tr>
<tr class="alt">
<td class="m"><span class="cx">SH6110W</span></td><td><span class="cx">150</span></td><td><span class="cx">110</span></td><td><span class="cx">150</span></td><td><span class="cx">Star-Delta</span></td><td><span class="cx">198/203</span></td><td><span class="cx">120</span></td><td><span class="cx">2.0</span></td><td><span class="cx">168/160</span></td><td><span class="cx">192/171</span></td><td><span class="cx">3.2/2.85</span></td><td><span class="cx">218/205</span></td><td><span class="cx">8</span></td>
</tr>
<tr>
<td class="m"><span class="cx">SH6150W</span></td><td><span class="cx">150</span></td><td><span class="cx">150</span></td><td><span class="cx">200</span></td><td><span class="cx">Star-Delta</span></td><td><span class="cx">260/268</span></td><td><span class="cx">150</span></td><td><span class="cx">2.5</span></td><td><span class="cx">190</span></td><td><span class="cx">218</span></td><td><span class="cx">3.63</span></td><td><span class="cx">230</span></td><td><span class="cx">12</span></td>
</tr>
</tbody></table>
<div style="position:absolute;left:2037px;top:2321.3px;width:12px;height:1.6px;background:#a3a3a3"></div>
</body></html>
